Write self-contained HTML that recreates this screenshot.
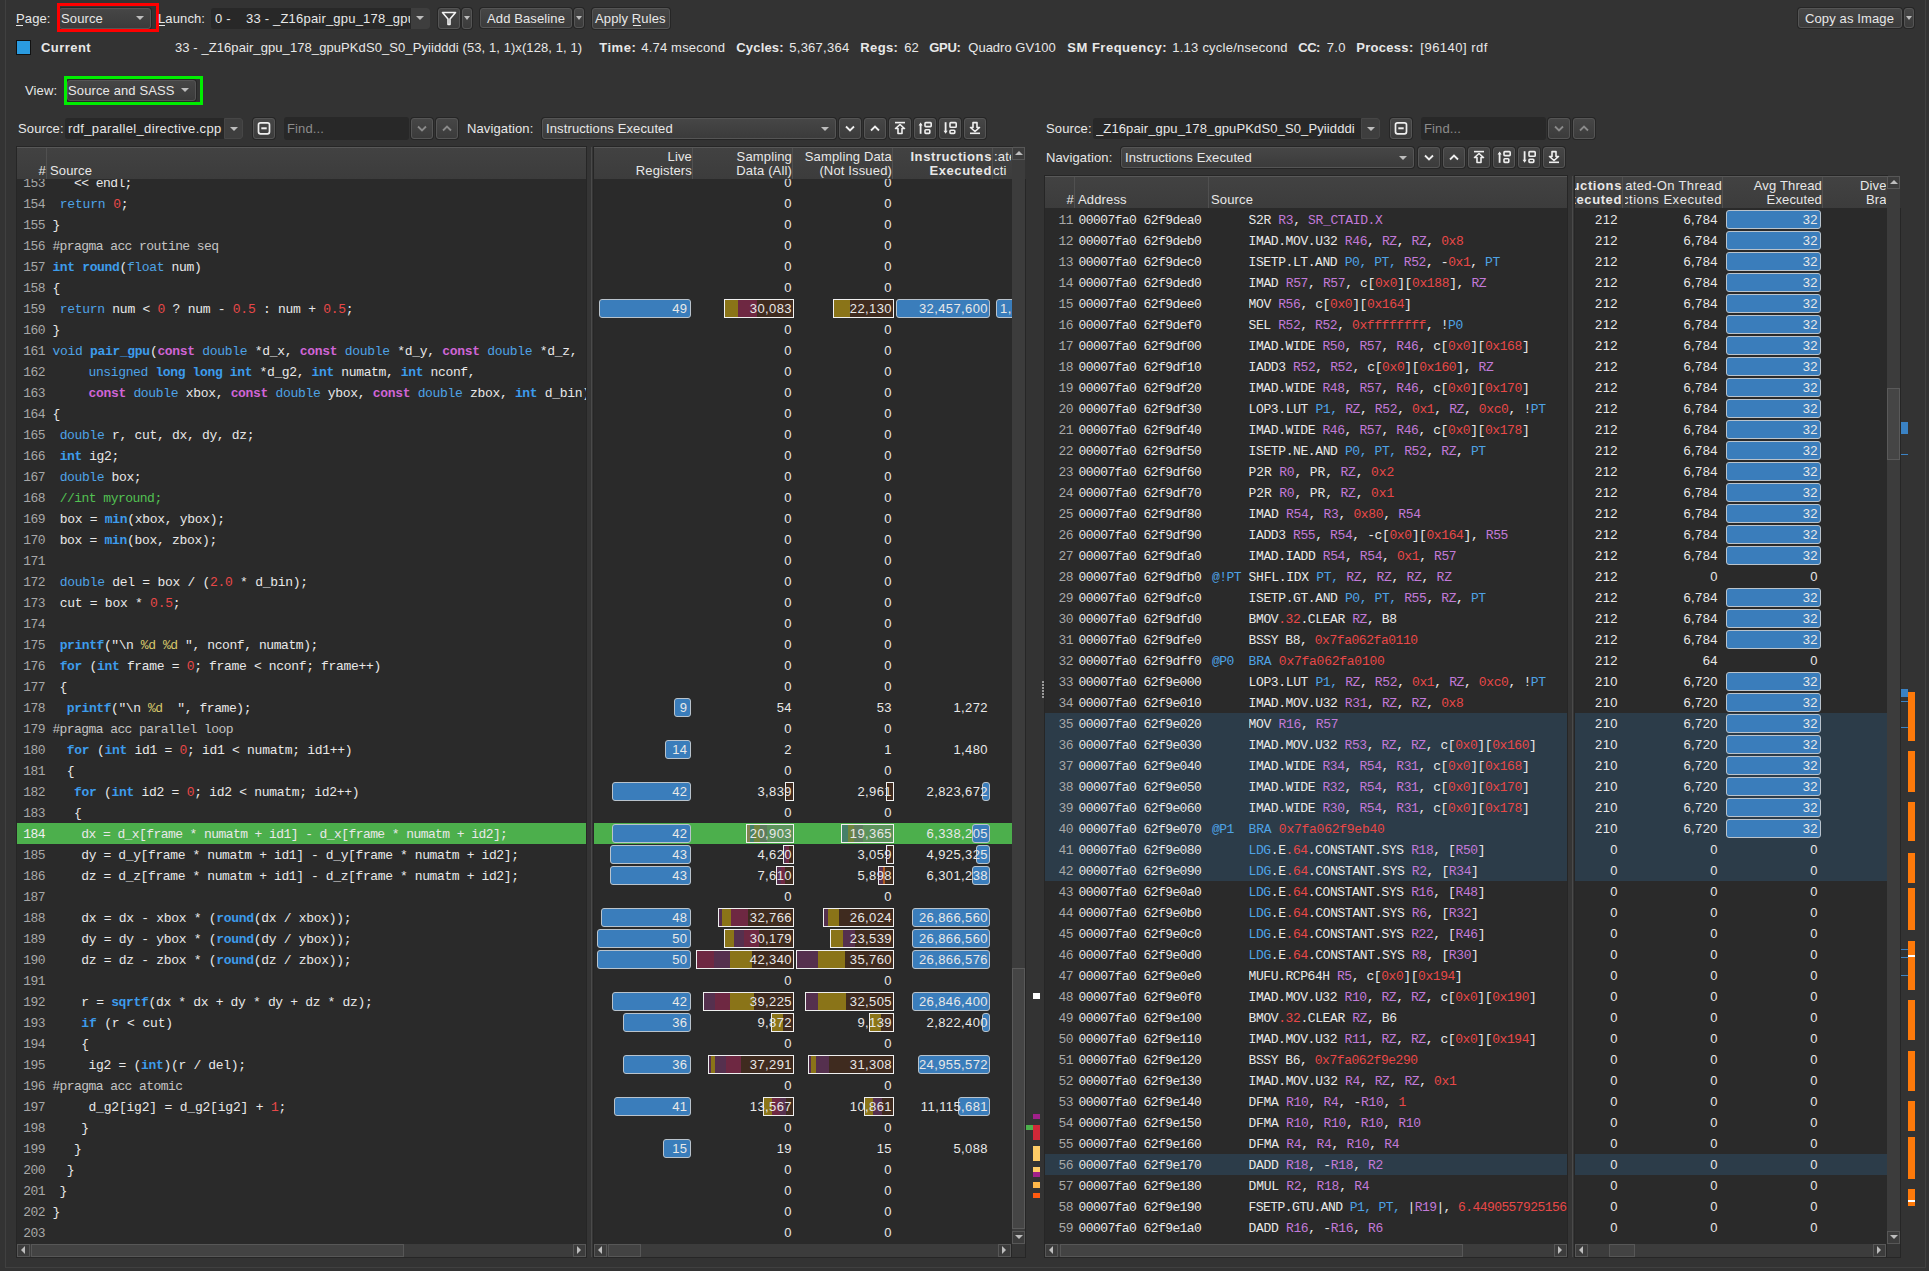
<!DOCTYPE html><html><head><meta charset="utf-8"><style>
html,body{margin:0;padding:0}
body{width:1929px;height:1271px;background:#333333;position:relative;overflow:hidden;font-family:"Liberation Sans",sans-serif;font-size:13px;color:#e8e8e8}
.a{position:absolute}
.t{white-space:pre;line-height:15px}
.m{font-family:"Liberation Mono",monospace;font-size:13px;letter-spacing:-0.58px;white-space:pre;line-height:21px}
.r{height:21px;position:absolute;left:0;right:0}
.n{position:absolute;text-align:right}
.kw{color:#4ea3e6}.kb{color:#3d9cec;font-weight:bold}.cs{color:#d065d6;font-weight:bold}.nu{color:#e84848}.cm{color:#52c152}.st{color:#d8c86a}.pp{color:#c4c4c4}
.rg{color:#c27ad8}.bl{color:#4ea3e6}
.sn{font-family:"Liberation Sans",sans-serif;font-size:13px;line-height:21px;white-space:pre;position:absolute;text-align:right;letter-spacing:0.4px}
.bar{position:absolute;box-sizing:border-box;border:1px solid #b9c3cc;border-radius:3px;background:#3a7dbb}
.sb{position:absolute;box-sizing:border-box;border:1px solid #f0f0f0;overflow:hidden;background:#3f2b1f}
</style></head><body>
<div class="a" style="left:5px;top:0px;width:1px;height:1268px;background:#404040"></div><div class="a" style="left:5px;top:1267px;width:1921px;height:1px;background:#404040"></div><div class="a" style="left:1925px;top:0px;width:1px;height:1268px;background:#404040"></div><div class="a t" style="left:16px;top:11px;letter-spacing:0.120px;">Page:</div><div class="a" style="left:16px;top:25px;width:7px;height:1px;background:#e8e8e8"></div><div class="a" style="left:59px;top:8px;width:92px;height:21px;box-sizing:border-box;border:1px solid #555;border-radius:3px;background:linear-gradient(#464646,#3b3b3b);box-shadow:0 0 0 1px #262626;"></div><div class="a t" style="left:61px;top:11px;letter-spacing:0.120px;">Source</div><div class="a" style="left:136.0px;top:16.0px;width:0;height:0;border-left:4.0px solid transparent;border-right:4.0px solid transparent;border-top:4px solid #bdbdbd;"></div><div class="a" style="left:57px;top:3px;width:102px;height:29px;box-sizing:border-box;border:3px solid #ff0000"></div><div class="a t" style="left:158px;top:11px;letter-spacing:0.120px;">Launch:</div><div class="a" style="left:159px;top:25px;width:6px;height:1px;background:#e8e8e8"></div><div class="a" style="left:211px;top:8px;width:219px;height:21px;background:#282828;border-radius:3px;"></div><div class="a" style="left:411px;top:8px;width:19px;height:21px;background:#3e3e3e;border-radius:0 3px 3px 0"></div><div class="a" style="left:416.0px;top:16.0px;width:0;height:0;border-left:4.0px solid transparent;border-right:4.0px solid transparent;border-top:4px solid #bdbdbd;"></div><div class="a t" style="left:215px;top:11px;width:195px;overflow:hidden;letter-spacing:0.2px">0 -    33 - _Z16pair_gpu_178_gpuPKdS0_S0_Pyiidddi</div><div class="a" style="left:438px;top:8px;width:22px;height:21px;box-sizing:border-box;border:1px solid #555;border-radius:3px;background:linear-gradient(#464646,#3b3b3b);box-shadow:0 0 0 1px #262626;"></div><svg class="a" style="left:438px;top:8px" width="22" height="21" viewBox="0 0 22 21"><path d="M4.5 4.5 H17.5 L12 11 V16.5 L10 16.5 V11 Z" fill="none" stroke="#f2f2f2" stroke-width="1.6" stroke-linejoin="round"/></svg><div class="a" style="left:462px;top:8px;width:10px;height:21px;box-sizing:border-box;border:1px solid #555;border-radius:3px;background:linear-gradient(#464646,#3b3b3b);box-shadow:0 0 0 1px #262626;"></div><div class="a" style="left:463.5px;top:16.0px;width:0;height:0;border-left:3.5px solid transparent;border-right:3.5px solid transparent;border-top:4px solid #bdbdbd;"></div><div class="a" style="left:480px;top:8px;width:92px;height:20px;box-sizing:border-box;border:1px solid #555;border-radius:3px;background:linear-gradient(#464646,#3b3b3b);box-shadow:0 0 0 1px #262626;"></div><div class="a t" style="left:487px;top:11px;letter-spacing:0.120px;">Add Baseline</div><div class="a" style="left:574px;top:8px;width:10px;height:20px;box-sizing:border-box;border:1px solid #555;border-radius:3px;background:linear-gradient(#464646,#3b3b3b);box-shadow:0 0 0 1px #262626;"></div><div class="a" style="left:575.5px;top:16.0px;width:0;height:0;border-left:3.5px solid transparent;border-right:3.5px solid transparent;border-top:4px solid #bdbdbd;"></div><div class="a" style="left:592px;top:8px;width:78px;height:21px;box-sizing:border-box;border:1px solid #555;border-radius:3px;background:linear-gradient(#464646,#3b3b3b);box-shadow:0 0 0 1px #262626;"></div><div class="a t" style="left:595px;top:11px;letter-spacing:0.120px;">Apply Rules</div><div class="a" style="left:633px;top:25px;width:8px;height:1px;background:#e8e8e8"></div><div class="a" style="left:1798px;top:8px;width:104px;height:20px;box-sizing:border-box;border:1px solid #555;border-radius:3px;background:linear-gradient(#464646,#3b3b3b);box-shadow:0 0 0 1px #262626;"></div><div class="a t" style="left:1805px;top:11px;letter-spacing:0.120px;">Copy as Image</div><div class="a" style="left:1904px;top:8px;width:10px;height:20px;box-sizing:border-box;border:1px solid #555;border-radius:3px;background:linear-gradient(#464646,#3b3b3b);box-shadow:0 0 0 1px #262626;"></div><div class="a" style="left:1905.5px;top:16.0px;width:0;height:0;border-left:3.5px solid transparent;border-right:3.5px solid transparent;border-top:4px solid #bdbdbd;"></div><div class="a" style="left:16px;top:40px;width:15px;height:15px;box-sizing:border-box;border:1px solid #111;background:#2a9be0"></div><div class="a t" style="left:41px;top:40px;letter-spacing:0.450px;font-weight:bold;">Current</div><div class="a t" style="left:175px;top:40px;letter-spacing:0.081px;">33 - _Z16pair_gpu_178_gpuPKdS0_S0_Pyiidddi (53, 1, 1)x(128, 1, 1)</div><div class="a t" style="left:599.3px;top:40px;letter-spacing:0.500px;font-weight:bold;">Time:</div><div class="a t" style="left:641.3px;top:40px;letter-spacing:0.182px;">4.74 msecond</div><div class="a t" style="left:736.3px;top:40px;letter-spacing:0.167px;font-weight:bold;">Cycles:</div><div class="a t" style="left:789.3px;top:40px;letter-spacing:0.250px;">5,367,364</div><div class="a t" style="left:860.3px;top:40px;letter-spacing:0.375px;font-weight:bold;">Regs:</div><div class="a t" style="left:904.3px;top:40px;letter-spacing:0.000px;">62</div><div class="a t" style="left:929.3px;top:40px;letter-spacing:-0.333px;font-weight:bold;">GPU:</div><div class="a t" style="left:968.3px;top:40px;letter-spacing:0.000px;">Quadro GV100</div><div class="a t" style="left:1067.3px;top:40px;letter-spacing:0.500px;font-weight:bold;">SM Frequency:</div><div class="a t" style="left:1172.3px;top:40px;letter-spacing:0.235px;">1.13 cycle/nsecond</div><div class="a t" style="left:1298.3px;top:40px;letter-spacing:-0.500px;font-weight:bold;">CC:</div><div class="a t" style="left:1326.8px;top:40px;letter-spacing:0.250px;">7.0</div><div class="a t" style="left:1356.3px;top:40px;letter-spacing:0.286px;font-weight:bold;">Process:</div><div class="a t" style="left:1420.3px;top:40px;letter-spacing:0.500px;">[96140] rdf</div><div class="a t" style="left:25px;top:83px;letter-spacing:0.120px;">View:</div><div class="a" style="left:67px;top:80px;width:129px;height:21px;box-sizing:border-box;border:1px solid #555;border-radius:3px;background:linear-gradient(#464646,#3b3b3b);box-shadow:0 0 0 1px #262626;"></div><div class="a t" style="left:68px;top:83px;letter-spacing:0.120px;">Source and SASS</div><div class="a" style="left:181.0px;top:88.0px;width:0;height:0;border-left:4.0px solid transparent;border-right:4.0px solid transparent;border-top:4px solid #bdbdbd;"></div><div class="a" style="left:64px;top:76px;width:139px;height:29px;box-sizing:border-box;border:3px solid #00ee00"></div><div class="a t" style="left:18px;top:121px;letter-spacing:0.120px;">Source:</div><div class="a" style="left:65px;top:118px;width:178px;height:21px;background:#282828;border-radius:3px;"></div><div class="a" style="left:224px;top:118px;width:19px;height:21px;background:#3e3e3e;border-radius:0 3px 3px 0;box-sizing:border-box;border:1px solid #464646"></div><div class="a t" style="left:68px;top:121px;width:156px;overflow:hidden;letter-spacing:0.35px">rdf_parallel_directive.cpp</div><div class="a" style="left:229.5px;top:126.5px;width:0;height:0;border-left:4.0px solid transparent;border-right:4.0px solid transparent;border-top:4px solid #bdbdbd;"></div><div class="a" style="left:253px;top:118px;width:22px;height:21px;box-sizing:border-box;border:1px solid #555;border-radius:3px;background:linear-gradient(#464646,#3b3b3b);box-shadow:0 0 0 1px #262626;"></div><svg class="a" style="left:253px;top:118px" width="22" height="21" viewBox="0 0 22 21"><rect x="5.5" y="4.8" width="11" height="11" rx="2" fill="none" stroke="#efefef" stroke-width="1.7"/><path d="M8.3 10.3 H13.7" stroke="#efefef" stroke-width="2"/></svg><div class="a" style="left:284px;top:117px;width:125px;height:23px;background:#282828;border-radius:3px;"></div><div class="a t" style="left:287px;top:121px;letter-spacing:0.120px;color:#8c8c8c;">Find...</div><div class="a" style="left:411px;top:118px;width:22px;height:21px;box-sizing:border-box;border:1px solid #555;border-radius:3px;background:linear-gradient(#464646,#3b3b3b);box-shadow:0 0 0 1px #262626;"></div><svg class="a" style="left:411px;top:118px" width="22" height="21" viewBox="0 0 22 21"><path d="M7 8.5 L11 12.5 L15 8.5" fill="none" stroke="#8a8a8a" stroke-width="1.8"/></svg><div class="a" style="left:436px;top:118px;width:22px;height:21px;box-sizing:border-box;border:1px solid #555;border-radius:3px;background:linear-gradient(#464646,#3b3b3b);box-shadow:0 0 0 1px #262626;"></div><svg class="a" style="left:436px;top:118px" width="22" height="21" viewBox="0 0 22 21"><path d="M7 12.5 L11 8.5 L15 12.5" fill="none" stroke="#8a8a8a" stroke-width="1.8"/></svg><div class="a t" style="left:467px;top:121px;letter-spacing:0.120px;">Navigation:</div><div class="a" style="left:542px;top:118px;width:294px;height:21px;box-sizing:border-box;border:1px solid #555;border-radius:3px;background:linear-gradient(#464646,#3b3b3b);box-shadow:0 0 0 1px #262626;"></div><div class="a t" style="left:546px;top:121px;letter-spacing:0.120px;">Instructions Executed</div><div class="a" style="left:821.0px;top:126.5px;width:0;height:0;border-left:4.0px solid transparent;border-right:4.0px solid transparent;border-top:4px solid #bdbdbd;"></div><div class="a" style="left:839px;top:118px;width:22px;height:21px;box-sizing:border-box;border:1px solid #555;border-radius:3px;background:linear-gradient(#464646,#3b3b3b);box-shadow:0 0 0 1px #262626;"></div><svg class="a" style="left:839px;top:118px" width="22" height="21" viewBox="0 0 22 21"><path d="M7 8.5 L11 12.5 L15 8.5" fill="none" stroke="#efefef" stroke-width="1.8"/></svg><div class="a" style="left:864px;top:118px;width:22px;height:21px;box-sizing:border-box;border:1px solid #555;border-radius:3px;background:linear-gradient(#464646,#3b3b3b);box-shadow:0 0 0 1px #262626;"></div><svg class="a" style="left:864px;top:118px" width="22" height="21" viewBox="0 0 22 21"><path d="M7 12.5 L11 8.5 L15 12.5" fill="none" stroke="#efefef" stroke-width="1.8"/></svg><div class="a" style="left:889px;top:118px;width:22px;height:21px;box-sizing:border-box;border:1px solid #555;border-radius:3px;background:linear-gradient(#464646,#3b3b3b);box-shadow:0 0 0 1px #262626;"></div><svg class="a" style="left:889px;top:118px" width="22" height="21" viewBox="0 0 22 21"><path d="M6 4.6 H16" stroke="#efefef" stroke-width="1.6"/><path d="M11 6.5 L15.5 10.5 H13 V15.5 H9 V10.5 H6.5 Z" fill="none" stroke="#efefef" stroke-width="1.6" stroke-linejoin="round"/></svg><div class="a" style="left:914px;top:118px;width:22px;height:21px;box-sizing:border-box;border:1px solid #555;border-radius:3px;background:linear-gradient(#464646,#3b3b3b);box-shadow:0 0 0 1px #262626;"></div><svg class="a" style="left:914px;top:118px" width="22" height="21" viewBox="0 0 22 21"><path d="M6.6 15.8 V6" stroke="#efefef" stroke-width="1.8"/><path d="M4.6 7.5 L6.6 4.5 L8.6 7.5 Z" fill="#efefef"/><rect x="11" y="4.6" width="6.2" height="4" rx="0.8" fill="none" stroke="#efefef" stroke-width="1.6"/><rect x="11" y="11.8" width="4.8" height="3.6" rx="0.8" fill="none" stroke="#efefef" stroke-width="1.6"/></svg><div class="a" style="left:939px;top:118px;width:22px;height:21px;box-sizing:border-box;border:1px solid #555;border-radius:3px;background:linear-gradient(#464646,#3b3b3b);box-shadow:0 0 0 1px #262626;"></div><svg class="a" style="left:939px;top:118px" width="22" height="21" viewBox="0 0 22 21"><path d="M6.6 4.2 V14" stroke="#efefef" stroke-width="1.8"/><path d="M4.6 12.8 L6.6 15.8 L8.6 12.8 Z" fill="#efefef"/><rect x="11" y="4.6" width="6.2" height="4.6" rx="0.8" fill="none" stroke="#efefef" stroke-width="1.6"/><rect x="11" y="12.2" width="4.8" height="3.2" rx="0.8" fill="none" stroke="#efefef" stroke-width="1.6"/></svg><div class="a" style="left:964px;top:118px;width:22px;height:21px;box-sizing:border-box;border:1px solid #555;border-radius:3px;background:linear-gradient(#464646,#3b3b3b);box-shadow:0 0 0 1px #262626;"></div><svg class="a" style="left:964px;top:118px" width="22" height="21" viewBox="0 0 22 21"><path d="M6 15.3 H16" stroke="#efefef" stroke-width="1.6"/><path d="M9 4.6 H13 V9.5 H15.5 L11 13.5 L6.5 9.5 H9 Z" fill="none" stroke="#efefef" stroke-width="1.6" stroke-linejoin="round"/></svg><div class="a t" style="left:1046px;top:121px;letter-spacing:0.120px;">Source:</div><div class="a" style="left:1093px;top:118px;width:287px;height:21px;background:#282828;border-radius:3px;"></div><div class="a" style="left:1361px;top:118px;width:19px;height:21px;background:#3e3e3e;border-radius:0 3px 3px 0;box-sizing:border-box;border:1px solid #464646"></div><div class="a t" style="left:1096px;top:121px;width:265px;overflow:hidden;letter-spacing:0.12px">_Z16pair_gpu_178_gpuPKdS0_S0_Pyiidddi</div><div class="a" style="left:1366.5px;top:126.5px;width:0;height:0;border-left:4.0px solid transparent;border-right:4.0px solid transparent;border-top:4px solid #bdbdbd;"></div><div class="a" style="left:1390px;top:118px;width:22px;height:21px;box-sizing:border-box;border:1px solid #555;border-radius:3px;background:linear-gradient(#464646,#3b3b3b);box-shadow:0 0 0 1px #262626;"></div><svg class="a" style="left:1390px;top:118px" width="22" height="21" viewBox="0 0 22 21"><rect x="5.5" y="4.8" width="11" height="11" rx="2" fill="none" stroke="#efefef" stroke-width="1.7"/><path d="M8.3 10.3 H13.7" stroke="#efefef" stroke-width="2"/></svg><div class="a" style="left:1421px;top:117px;width:125px;height:23px;background:#282828;border-radius:3px;"></div><div class="a t" style="left:1424px;top:121px;letter-spacing:0.120px;color:#8c8c8c;">Find...</div><div class="a" style="left:1548px;top:118px;width:22px;height:21px;box-sizing:border-box;border:1px solid #555;border-radius:3px;background:linear-gradient(#464646,#3b3b3b);box-shadow:0 0 0 1px #262626;"></div><svg class="a" style="left:1548px;top:118px" width="22" height="21" viewBox="0 0 22 21"><path d="M7 8.5 L11 12.5 L15 8.5" fill="none" stroke="#8a8a8a" stroke-width="1.8"/></svg><div class="a" style="left:1573px;top:118px;width:22px;height:21px;box-sizing:border-box;border:1px solid #555;border-radius:3px;background:linear-gradient(#464646,#3b3b3b);box-shadow:0 0 0 1px #262626;"></div><svg class="a" style="left:1573px;top:118px" width="22" height="21" viewBox="0 0 22 21"><path d="M7 12.5 L11 8.5 L15 12.5" fill="none" stroke="#8a8a8a" stroke-width="1.8"/></svg><div class="a t" style="left:1046px;top:150px;letter-spacing:0.120px;">Navigation:</div><div class="a" style="left:1121px;top:147px;width:293px;height:21px;box-sizing:border-box;border:1px solid #555;border-radius:3px;background:linear-gradient(#464646,#3b3b3b);box-shadow:0 0 0 1px #262626;"></div><div class="a t" style="left:1125px;top:150px;letter-spacing:0.120px;">Instructions Executed</div><div class="a" style="left:1399.0px;top:155.5px;width:0;height:0;border-left:4.0px solid transparent;border-right:4.0px solid transparent;border-top:4px solid #bdbdbd;"></div><div class="a" style="left:1418px;top:147px;width:22px;height:21px;box-sizing:border-box;border:1px solid #555;border-radius:3px;background:linear-gradient(#464646,#3b3b3b);box-shadow:0 0 0 1px #262626;"></div><svg class="a" style="left:1418px;top:147px" width="22" height="21" viewBox="0 0 22 21"><path d="M7 8.5 L11 12.5 L15 8.5" fill="none" stroke="#efefef" stroke-width="1.8"/></svg><div class="a" style="left:1443px;top:147px;width:22px;height:21px;box-sizing:border-box;border:1px solid #555;border-radius:3px;background:linear-gradient(#464646,#3b3b3b);box-shadow:0 0 0 1px #262626;"></div><svg class="a" style="left:1443px;top:147px" width="22" height="21" viewBox="0 0 22 21"><path d="M7 12.5 L11 8.5 L15 12.5" fill="none" stroke="#efefef" stroke-width="1.8"/></svg><div class="a" style="left:1468px;top:147px;width:22px;height:21px;box-sizing:border-box;border:1px solid #555;border-radius:3px;background:linear-gradient(#464646,#3b3b3b);box-shadow:0 0 0 1px #262626;"></div><svg class="a" style="left:1468px;top:147px" width="22" height="21" viewBox="0 0 22 21"><path d="M6 4.6 H16" stroke="#efefef" stroke-width="1.6"/><path d="M11 6.5 L15.5 10.5 H13 V15.5 H9 V10.5 H6.5 Z" fill="none" stroke="#efefef" stroke-width="1.6" stroke-linejoin="round"/></svg><div class="a" style="left:1493px;top:147px;width:22px;height:21px;box-sizing:border-box;border:1px solid #555;border-radius:3px;background:linear-gradient(#464646,#3b3b3b);box-shadow:0 0 0 1px #262626;"></div><svg class="a" style="left:1493px;top:147px" width="22" height="21" viewBox="0 0 22 21"><path d="M6.6 15.8 V6" stroke="#efefef" stroke-width="1.8"/><path d="M4.6 7.5 L6.6 4.5 L8.6 7.5 Z" fill="#efefef"/><rect x="11" y="4.6" width="6.2" height="4" rx="0.8" fill="none" stroke="#efefef" stroke-width="1.6"/><rect x="11" y="11.8" width="4.8" height="3.6" rx="0.8" fill="none" stroke="#efefef" stroke-width="1.6"/></svg><div class="a" style="left:1518px;top:147px;width:22px;height:21px;box-sizing:border-box;border:1px solid #555;border-radius:3px;background:linear-gradient(#464646,#3b3b3b);box-shadow:0 0 0 1px #262626;"></div><svg class="a" style="left:1518px;top:147px" width="22" height="21" viewBox="0 0 22 21"><path d="M6.6 4.2 V14" stroke="#efefef" stroke-width="1.8"/><path d="M4.6 12.8 L6.6 15.8 L8.6 12.8 Z" fill="#efefef"/><rect x="11" y="4.6" width="6.2" height="4.6" rx="0.8" fill="none" stroke="#efefef" stroke-width="1.6"/><rect x="11" y="12.2" width="4.8" height="3.2" rx="0.8" fill="none" stroke="#efefef" stroke-width="1.6"/></svg><div class="a" style="left:1543px;top:147px;width:22px;height:21px;box-sizing:border-box;border:1px solid #555;border-radius:3px;background:linear-gradient(#464646,#3b3b3b);box-shadow:0 0 0 1px #262626;"></div><svg class="a" style="left:1543px;top:147px" width="22" height="21" viewBox="0 0 22 21"><path d="M6 15.3 H16" stroke="#efefef" stroke-width="1.6"/><path d="M9 4.6 H13 V9.5 H15.5 L11 13.5 L6.5 9.5 H9 Z" fill="none" stroke="#efefef" stroke-width="1.6" stroke-linejoin="round"/></svg><div class="a" style="left:16px;top:146px;width:571px;height:34px;background:#262626"></div><div class="a" style="left:17px;top:147px;width:569px;height:32px;background:linear-gradient(#424242,#3c3c3c);border-top:1px solid #585858;box-sizing:border-box"></div><div class="a" style="left:46px;top:148px;width:1px;height:31px;background:#505050"></div><div class="a" style="left:16px;top:179px;width:571px;height:1079px;background:#262626"></div><div class="a" style="left:17px;top:179px;width:569px;height:1065px;background:#2a2a2a"></div><div class="a t" style="top:163px;left:-454px;width:500px;text-align:right;letter-spacing:0.15px;">#</div><div class="a t" style="top:163px;left:50px;letter-spacing:0.15px;">Source</div><div class="a" style="left:17px;top:1244px;width:569px;height:13px;background:#3c3c3c"></div><div class="a" style="left:17px;top:1244px;width:13px;height:13px;box-sizing:border-box;border:1px solid #575757;background:#3c3c3c"></div><div class="a" style="left:20.5px;top:1245.8px;width:0;height:0;border-top:4.0px solid transparent;border-bottom:4.0px solid transparent;border-right:4px solid #bdbdbd;"></div><div class="a" style="left:573px;top:1244px;width:13px;height:13px;box-sizing:border-box;border:1px solid #575757;background:#3c3c3c"></div><div class="a" style="left:576.5px;top:1245.8px;width:0;height:0;border-top:4.0px solid transparent;border-bottom:4.0px solid transparent;border-left:4px solid #bdbdbd;"></div><div class="a" style="left:31px;top:1244px;width:373px;height:13px;box-sizing:border-box;border:1px solid #575757;background:#434343"></div><div class="a" style="left:587px;top:147px;width:6px;height:1110px;background:#353535"></div><div class="a" style="left:591px;top:147px;width:1px;height:1110px;background:#4a4a4a"></div><div class="a" style="left:17px;top:179px;width:569px;height:1065px;overflow:hidden"><div class="r" style="top:-7px;"><div class="m n" style="left:0;width:28px;top:1px;color:#a8a8a8">153</div><div class="m a" style="left:35.4px;top:1px">   &lt;&lt; endl;</div></div><div class="r" style="top:14px;"><div class="m n" style="left:0;width:28px;top:1px;color:#a8a8a8">154</div><div class="m a" style="left:35.4px;top:1px"> <span style="letter-spacing:-0.155px"><span class="kw">return</span> <span class="nu">0</span>;</span></div></div><div class="r" style="top:35px;"><div class="m n" style="left:0;width:28px;top:1px;color:#a8a8a8">155</div><div class="m a" style="left:35.4px;top:1px">}</div></div><div class="r" style="top:56px;"><div class="m n" style="left:0;width:28px;top:1px;color:#a8a8a8">156</div><div class="m a" style="left:35.4px;top:1px"><span class="pp">#pragma acc routine seq</span></div></div><div class="r" style="top:77px;"><div class="m n" style="left:0;width:28px;top:1px;color:#a8a8a8">157</div><div class="m a" style="left:35.4px;top:1px"><span style="letter-spacing:-0.354px"><span class="kb">int</span> <span class="kb">round</span>(<span class="kw">float</span> num)</span></div></div><div class="r" style="top:98px;"><div class="m n" style="left:0;width:28px;top:1px;color:#a8a8a8">158</div><div class="m a" style="left:35.4px;top:1px">{</div></div><div class="r" style="top:119px;"><div class="m n" style="left:0;width:28px;top:1px;color:#a8a8a8">159</div><div class="m a" style="left:35.4px;top:1px"> <span style="letter-spacing:-0.272px"><span class="kw">return</span> num &lt; <span class="nu">0</span> ? num - <span class="nu">0.5</span> : num + <span class="nu">0.5</span>;</span></div></div><div class="r" style="top:140px;"><div class="m n" style="left:0;width:28px;top:1px;color:#a8a8a8">160</div><div class="m a" style="left:35.4px;top:1px">}</div></div><div class="r" style="top:161px;"><div class="m n" style="left:0;width:28px;top:1px;color:#a8a8a8">161</div><div class="m a" style="left:35.4px;top:1px"><span style="letter-spacing:-0.305px"><span class="kw">void</span> <span class="kb">pair_gpu</span>(<span class="cs">const</span> <span class="kw">double</span> *d_x, <span class="cs">const</span> <span class="kw">double</span> *d_y, <span class="cs">const</span> <span class="kw">double</span> *d_z,</span></div></div><div class="r" style="top:182px;"><div class="m n" style="left:0;width:28px;top:1px;color:#a8a8a8">162</div><div class="m a" style="left:35.4px;top:1px">     <span style="letter-spacing:-0.367px"><span class="kw">unsigned</span> <span class="kb">long</span> <span class="kb">long</span> <span class="kb">int</span> *d_g2, <span class="kb">int</span> numatm, <span class="kb">int</span> nconf,</span></div></div><div class="r" style="top:203px;"><div class="m n" style="left:0;width:28px;top:1px;color:#a8a8a8">163</div><div class="m a" style="left:35.4px;top:1px">     <span style="letter-spacing:-0.323px"><span class="cs">const</span> <span class="kw">double</span> xbox, <span class="cs">const</span> <span class="kw">double</span> ybox, <span class="cs">const</span> <span class="kw">double</span> zbox, <span class="kb">int</span> d_bin)</span></div></div><div class="r" style="top:224px;"><div class="m n" style="left:0;width:28px;top:1px;color:#a8a8a8">164</div><div class="m a" style="left:35.4px;top:1px">{</div></div><div class="r" style="top:245px;"><div class="m n" style="left:0;width:28px;top:1px;color:#a8a8a8">165</div><div class="m a" style="left:35.4px;top:1px"> <span style="letter-spacing:-0.314px"><span class="kw">double</span> r, cut, dx, dy, dz;</span></div></div><div class="r" style="top:266px;"><div class="m n" style="left:0;width:28px;top:1px;color:#a8a8a8">166</div><div class="m a" style="left:35.4px;top:1px"> <span style="letter-spacing:-0.406px"><span class="kb">int</span> ig2;</span></div></div><div class="r" style="top:287px;"><div class="m n" style="left:0;width:28px;top:1px;color:#a8a8a8">167</div><div class="m a" style="left:35.4px;top:1px"> <span style="letter-spacing:-0.384px"><span class="kw">double</span> box;</span></div></div><div class="r" style="top:308px;"><div class="m n" style="left:0;width:28px;top:1px;color:#a8a8a8">168</div><div class="m a" style="left:35.4px;top:1px"> <span style="letter-spacing:-0.511px"><span class="cm">//int myround;</span></span></div></div><div class="r" style="top:329px;"><div class="m n" style="left:0;width:28px;top:1px;color:#a8a8a8">169</div><div class="m a" style="left:35.4px;top:1px"> <span style="letter-spacing:-0.297px">box = <span class="kb">min</span>(xbox, ybox);</span></div></div><div class="r" style="top:350px;"><div class="m n" style="left:0;width:28px;top:1px;color:#a8a8a8">170</div><div class="m a" style="left:35.4px;top:1px"> <span style="letter-spacing:-0.312px">box = <span class="kb">min</span>(box, zbox);</span></div></div><div class="r" style="top:371px;"><div class="m n" style="left:0;width:28px;top:1px;color:#a8a8a8">171</div><div class="m a" style="left:35.4px;top:1px"></div></div><div class="r" style="top:392px;"><div class="m n" style="left:0;width:28px;top:1px;color:#a8a8a8">172</div><div class="m a" style="left:35.4px;top:1px"> <span style="letter-spacing:-0.283px"><span class="kw">double</span> del = box / (<span class="nu">2.0</span> * d_bin);</span></div></div><div class="r" style="top:413px;"><div class="m n" style="left:0;width:28px;top:1px;color:#a8a8a8">173</div><div class="m a" style="left:35.4px;top:1px"> <span style="letter-spacing:-0.263px">cut = box * <span class="nu">0.5</span>;</span></div></div><div class="r" style="top:434px;"><div class="m n" style="left:0;width:28px;top:1px;color:#a8a8a8">174</div><div class="m a" style="left:35.4px;top:1px"></div></div><div class="r" style="top:455px;"><div class="m n" style="left:0;width:28px;top:1px;color:#a8a8a8">175</div><div class="m a" style="left:35.4px;top:1px"> <span style="letter-spacing:-0.422px"><span class="kb">printf</span>(&quot;\n <span class="st">%d</span> <span class="st">%d</span> &quot;, nconf, numatm);</span></div></div><div class="r" style="top:476px;"><div class="m n" style="left:0;width:28px;top:1px;color:#a8a8a8">176</div><div class="m a" style="left:35.4px;top:1px"> <span style="letter-spacing:-0.332px"><span class="kb">for</span> (<span class="kb">int</span> frame = <span class="nu">0</span>; frame &lt; nconf; frame++)</span></div></div><div class="r" style="top:497px;"><div class="m n" style="left:0;width:28px;top:1px;color:#a8a8a8">177</div><div class="m a" style="left:35.4px;top:1px"> {</div></div><div class="r" style="top:518px;"><div class="m n" style="left:0;width:28px;top:1px;color:#a8a8a8">178</div><div class="m a" style="left:35.4px;top:1px">  <span style="letter-spacing:-0.436px"><span class="kb">printf</span>(&quot;\n <span class="st">%d</span>  &quot;, frame);</span></div></div><div class="r" style="top:539px;"><div class="m n" style="left:0;width:28px;top:1px;color:#a8a8a8">179</div><div class="m a" style="left:35.4px;top:1px"><span class="pp">#pragma acc parallel loop</span></div></div><div class="r" style="top:560px;"><div class="m n" style="left:0;width:28px;top:1px;color:#a8a8a8">180</div><div class="m a" style="left:35.4px;top:1px">  <span style="letter-spacing:-0.291px"><span class="kb">for</span> (<span class="kb">int</span> id1 = <span class="nu">0</span>; id1 &lt; numatm; id1++)</span></div></div><div class="r" style="top:581px;"><div class="m n" style="left:0;width:28px;top:1px;color:#a8a8a8">181</div><div class="m a" style="left:35.4px;top:1px">  {</div></div><div class="r" style="top:602px;"><div class="m n" style="left:0;width:28px;top:1px;color:#a8a8a8">182</div><div class="m a" style="left:35.4px;top:1px">   <span style="letter-spacing:-0.299px"><span class="kb">for</span> (<span class="kb">int</span> id2 = <span class="nu">0</span>; id2 &lt; numatm; id2++)</span></div></div><div class="r" style="top:623px;"><div class="m n" style="left:0;width:28px;top:1px;color:#a8a8a8">183</div><div class="m a" style="left:35.4px;top:1px">   {</div></div><div class="r" style="top:644px;background:#4caf4c;"><div class="m n" style="left:0;width:28px;top:1px;color:#f0f0f0">184</div><div class="m a" style="left:35.4px;top:1px">    dx = d_x[frame * numatm + id1] - d_x[frame * numatm + id2];</div></div><div class="r" style="top:665px;"><div class="m n" style="left:0;width:28px;top:1px;color:#a8a8a8">185</div><div class="m a" style="left:35.4px;top:1px">    <span style="letter-spacing:-0.390px">dy = d_y[frame * numatm + id1] - d_y[frame * numatm + id2];</span></div></div><div class="r" style="top:686px;"><div class="m n" style="left:0;width:28px;top:1px;color:#a8a8a8">186</div><div class="m a" style="left:35.4px;top:1px">    <span style="letter-spacing:-0.390px">dz = d_z[frame * numatm + id1] - d_z[frame * numatm + id2];</span></div></div><div class="r" style="top:707px;"><div class="m n" style="left:0;width:28px;top:1px;color:#a8a8a8">187</div><div class="m a" style="left:35.4px;top:1px"></div></div><div class="r" style="top:728px;"><div class="m n" style="left:0;width:28px;top:1px;color:#a8a8a8">188</div><div class="m a" style="left:35.4px;top:1px">    <span style="letter-spacing:-0.300px">dx = dx - xbox * (<span class="kb">round</span>(dx / xbox));</span></div></div><div class="r" style="top:749px;"><div class="m n" style="left:0;width:28px;top:1px;color:#a8a8a8">189</div><div class="m a" style="left:35.4px;top:1px">    <span style="letter-spacing:-0.300px">dy = dy - ybox * (<span class="kb">round</span>(dy / ybox));</span></div></div><div class="r" style="top:770px;"><div class="m n" style="left:0;width:28px;top:1px;color:#a8a8a8">190</div><div class="m a" style="left:35.4px;top:1px">    <span style="letter-spacing:-0.300px">dz = dz - zbox * (<span class="kb">round</span>(dz / zbox));</span></div></div><div class="r" style="top:791px;"><div class="m n" style="left:0;width:28px;top:1px;color:#a8a8a8">191</div><div class="m a" style="left:35.4px;top:1px"></div></div><div class="r" style="top:812px;"><div class="m n" style="left:0;width:28px;top:1px;color:#a8a8a8">192</div><div class="m a" style="left:35.4px;top:1px">    <span style="letter-spacing:-0.337px">r = <span class="kb">sqrtf</span>(dx * dx + dy * dy + dz * dz);</span></div></div><div class="r" style="top:833px;"><div class="m n" style="left:0;width:28px;top:1px;color:#a8a8a8">193</div><div class="m a" style="left:35.4px;top:1px">    <span style="letter-spacing:-0.164px"><span class="kb">if</span> (r &lt; cut)</span></div></div><div class="r" style="top:854px;"><div class="m n" style="left:0;width:28px;top:1px;color:#a8a8a8">194</div><div class="m a" style="left:35.4px;top:1px">    {</div></div><div class="r" style="top:875px;"><div class="m n" style="left:0;width:28px;top:1px;color:#a8a8a8">195</div><div class="m a" style="left:35.4px;top:1px">     <span style="letter-spacing:-0.311px">ig2 = (<span class="kb">int</span>)(r / del);</span></div></div><div class="r" style="top:896px;"><div class="m n" style="left:0;width:28px;top:1px;color:#a8a8a8">196</div><div class="m a" style="left:35.4px;top:1px"><span class="pp">#pragma acc atomic</span></div></div><div class="r" style="top:917px;"><div class="m n" style="left:0;width:28px;top:1px;color:#a8a8a8">197</div><div class="m a" style="left:35.4px;top:1px">     <span style="letter-spacing:-0.201px">d_g2[ig2] = d_g2[ig2] + <span class="nu">1</span>;</span></div></div><div class="r" style="top:938px;"><div class="m n" style="left:0;width:28px;top:1px;color:#a8a8a8">198</div><div class="m a" style="left:35.4px;top:1px">    }</div></div><div class="r" style="top:959px;"><div class="m n" style="left:0;width:28px;top:1px;color:#a8a8a8">199</div><div class="m a" style="left:35.4px;top:1px">   }</div></div><div class="r" style="top:980px;"><div class="m n" style="left:0;width:28px;top:1px;color:#a8a8a8">200</div><div class="m a" style="left:35.4px;top:1px">  }</div></div><div class="r" style="top:1001px;"><div class="m n" style="left:0;width:28px;top:1px;color:#a8a8a8">201</div><div class="m a" style="left:35.4px;top:1px"> }</div></div><div class="r" style="top:1022px;"><div class="m n" style="left:0;width:28px;top:1px;color:#a8a8a8">202</div><div class="m a" style="left:35.4px;top:1px">}</div></div><div class="r" style="top:1043px;"><div class="m n" style="left:0;width:28px;top:1px;color:#a8a8a8">203</div><div class="m a" style="left:35.4px;top:1px"></div></div></div><div class="a" style="left:593px;top:146px;width:420px;height:34px;background:#262626"></div><div class="a" style="left:594px;top:147px;width:418px;height:32px;background:linear-gradient(#424242,#3c3c3c);border-top:1px solid #585858;box-sizing:border-box"></div><div class="a" style="left:692px;top:148px;width:1px;height:31px;background:#505050"></div><div class="a" style="left:792px;top:148px;width:1px;height:31px;background:#505050"></div><div class="a" style="left:892px;top:148px;width:1px;height:31px;background:#505050"></div><div class="a" style="left:992px;top:148px;width:1px;height:31px;background:#505050"></div><div class="a" style="left:593px;top:179px;width:433px;height:1079px;background:#262626"></div><div class="a" style="left:594px;top:179px;width:418px;height:1065px;background:#2a2a2a"></div><div class="a t" style="top:149px;left:192px;width:500px;text-align:right;letter-spacing:0.15px;">Live</div><div class="a t" style="top:163px;left:192px;width:500px;text-align:right;letter-spacing:0.15px;">Registers</div><div class="a t" style="top:149px;left:292px;width:500px;text-align:right;letter-spacing:0.15px;">Sampling</div><div class="a t" style="top:163px;left:292px;width:500px;text-align:right;letter-spacing:0.15px;">Data (All)</div><div class="a t" style="top:149px;left:392px;width:500px;text-align:right;letter-spacing:0.15px;">Sampling Data</div><div class="a t" style="top:163px;left:392px;width:500px;text-align:right;letter-spacing:0.15px;">(Not Issued)</div><div class="a t" style="top:149px;left:492px;width:500px;text-align:right;letter-spacing:0.6px;font-weight:bold;">Instructions</div><div class="a t" style="top:163px;left:492px;width:500px;text-align:right;letter-spacing:0.6px;font-weight:bold;">Executed</div><div class="a" style="left:993px;top:147px;width:18px;height:32px;overflow:hidden"><div class="a t" style="top:2px;left:1px;letter-spacing:0.15px;">:ated</div><div class="a t" style="top:16px;left:0px;letter-spacing:0.15px;">cti</div></div><div class="a" style="left:1012px;top:147px;width:13px;height:1097px;background:#3c3c3c"></div><div class="a" style="left:1012px;top:147px;width:13px;height:13px;box-sizing:border-box;border:1px solid #575757;background:#3c3c3c"></div><div class="a" style="left:1014.5px;top:151.0px;width:0;height:0;border-left:4.0px solid transparent;border-right:4.0px solid transparent;border-bottom:4px solid #bdbdbd;"></div><div class="a" style="left:1012px;top:1231px;width:13px;height:13px;box-sizing:border-box;border:1px solid #575757;background:#3c3c3c"></div><div class="a" style="left:1014.5px;top:1234.5px;width:0;height:0;border-left:4.0px solid transparent;border-right:4.0px solid transparent;border-top:4px solid #bdbdbd;"></div><div class="a" style="left:1012px;top:968px;width:13px;height:261px;box-sizing:border-box;border:1px solid #5a5a5a;background:#454545"></div><div class="a" style="left:594px;top:1244px;width:417px;height:13px;background:#3c3c3c"></div><div class="a" style="left:594px;top:1244px;width:13px;height:13px;box-sizing:border-box;border:1px solid #575757;background:#3c3c3c"></div><div class="a" style="left:597.5px;top:1245.8px;width:0;height:0;border-top:4.0px solid transparent;border-bottom:4.0px solid transparent;border-right:4px solid #bdbdbd;"></div><div class="a" style="left:998px;top:1244px;width:13px;height:13px;box-sizing:border-box;border:1px solid #575757;background:#3c3c3c"></div><div class="a" style="left:1001.5px;top:1245.8px;width:0;height:0;border-top:4.0px solid transparent;border-bottom:4.0px solid transparent;border-left:4px solid #bdbdbd;"></div><div class="a" style="left:608px;top:1244px;width:33px;height:13px;box-sizing:border-box;border:1px solid #575757;background:#434343"></div><div class="a" style="left:1012px;top:1244px;width:13px;height:13px;background:#353535"></div><div class="a" style="left:594px;top:179px;width:418px;height:1065px;overflow:hidden"><div class="r" style="top:-7px;"><div class="sn" style="left:0;width:198px;top:0">0</div><div class="sn" style="left:0;width:298px;top:0">0</div></div><div class="r" style="top:14px;"><div class="sn" style="left:0;width:198px;top:0">0</div><div class="sn" style="left:0;width:298px;top:0">0</div></div><div class="r" style="top:35px;"><div class="sn" style="left:0;width:198px;top:0">0</div><div class="sn" style="left:0;width:298px;top:0">0</div></div><div class="r" style="top:56px;"><div class="sn" style="left:0;width:198px;top:0">0</div><div class="sn" style="left:0;width:298px;top:0">0</div></div><div class="r" style="top:77px;"><div class="sn" style="left:0;width:198px;top:0">0</div><div class="sn" style="left:0;width:298px;top:0">0</div></div><div class="r" style="top:98px;"><div class="sn" style="left:0;width:198px;top:0">0</div><div class="sn" style="left:0;width:298px;top:0">0</div></div><div class="r" style="top:119px;"><div class="bar" style="left:4.5px;top:1px;width:92px;height:19px"></div><div class="sn" style="left:0;width:93.5px;top:0">49</div><div class="sb" style="left:130.20000000000005px;top:1px;width:70px;height:19px;"><div style="float:left;width:13px;height:100%;background:#8a7418;"></div><div style="float:left;width:19px;height:100%;background:#6e2842;"></div></div><div class="sb" style="left:239px;top:1px;width:61px;height:19px;"><div style="float:left;width:16px;height:100%;background:#8a7418;"></div></div><div class="bar" style="left:302.4px;top:1px;width:94px;height:19px"></div><div class="sn" style="left:0;width:198px;top:0">30,083</div><div class="sn" style="left:0;width:298px;top:0">22,130</div><div class="sn" style="left:0;width:394px;top:0">32,457,600</div><div class="bar" style="left:402px;top:1px;width:30px;height:19px"></div><div class="sn" style="left:406px;top:0;text-align:left">1,</div></div><div class="r" style="top:140px;"><div class="sn" style="left:0;width:198px;top:0">0</div><div class="sn" style="left:0;width:298px;top:0">0</div></div><div class="r" style="top:161px;"><div class="sn" style="left:0;width:198px;top:0">0</div><div class="sn" style="left:0;width:298px;top:0">0</div></div><div class="r" style="top:182px;"><div class="sn" style="left:0;width:198px;top:0">0</div><div class="sn" style="left:0;width:298px;top:0">0</div></div><div class="r" style="top:203px;"><div class="sn" style="left:0;width:198px;top:0">0</div><div class="sn" style="left:0;width:298px;top:0">0</div></div><div class="r" style="top:224px;"><div class="sn" style="left:0;width:198px;top:0">0</div><div class="sn" style="left:0;width:298px;top:0">0</div></div><div class="r" style="top:245px;"><div class="sn" style="left:0;width:198px;top:0">0</div><div class="sn" style="left:0;width:298px;top:0">0</div></div><div class="r" style="top:266px;"><div class="sn" style="left:0;width:198px;top:0">0</div><div class="sn" style="left:0;width:298px;top:0">0</div></div><div class="r" style="top:287px;"><div class="sn" style="left:0;width:198px;top:0">0</div><div class="sn" style="left:0;width:298px;top:0">0</div></div><div class="r" style="top:308px;"><div class="sn" style="left:0;width:198px;top:0">0</div><div class="sn" style="left:0;width:298px;top:0">0</div></div><div class="r" style="top:329px;"><div class="sn" style="left:0;width:198px;top:0">0</div><div class="sn" style="left:0;width:298px;top:0">0</div></div><div class="r" style="top:350px;"><div class="sn" style="left:0;width:198px;top:0">0</div><div class="sn" style="left:0;width:298px;top:0">0</div></div><div class="r" style="top:371px;"><div class="sn" style="left:0;width:198px;top:0">0</div><div class="sn" style="left:0;width:298px;top:0">0</div></div><div class="r" style="top:392px;"><div class="sn" style="left:0;width:198px;top:0">0</div><div class="sn" style="left:0;width:298px;top:0">0</div></div><div class="r" style="top:413px;"><div class="sn" style="left:0;width:198px;top:0">0</div><div class="sn" style="left:0;width:298px;top:0">0</div></div><div class="r" style="top:434px;"><div class="sn" style="left:0;width:198px;top:0">0</div><div class="sn" style="left:0;width:298px;top:0">0</div></div><div class="r" style="top:455px;"><div class="sn" style="left:0;width:198px;top:0">0</div><div class="sn" style="left:0;width:298px;top:0">0</div></div><div class="r" style="top:476px;"><div class="sn" style="left:0;width:198px;top:0">0</div><div class="sn" style="left:0;width:298px;top:0">0</div></div><div class="r" style="top:497px;"><div class="sn" style="left:0;width:198px;top:0">0</div><div class="sn" style="left:0;width:298px;top:0">0</div></div><div class="r" style="top:518px;"><div class="bar" style="left:79.5px;top:1px;width:17px;height:19px"></div><div class="sn" style="left:0;width:93.5px;top:0">9</div><div class="sn" style="left:0;width:198px;top:0">54</div><div class="sn" style="left:0;width:298px;top:0">53</div><div class="sn" style="left:0;width:394px;top:0">1,272</div></div><div class="r" style="top:539px;"><div class="sn" style="left:0;width:198px;top:0">0</div><div class="sn" style="left:0;width:298px;top:0">0</div></div><div class="r" style="top:560px;"><div class="bar" style="left:70.5px;top:1px;width:26px;height:19px"></div><div class="sn" style="left:0;width:93.5px;top:0">14</div><div class="sn" style="left:0;width:198px;top:0">2</div><div class="sn" style="left:0;width:298px;top:0">1</div><div class="sn" style="left:0;width:394px;top:0">1,480</div></div><div class="r" style="top:581px;"><div class="sn" style="left:0;width:198px;top:0">0</div><div class="sn" style="left:0;width:298px;top:0">0</div></div><div class="r" style="top:602px;"><div class="bar" style="left:17.5px;top:1px;width:79px;height:19px"></div><div class="sn" style="left:0;width:93.5px;top:0">42</div><div class="sb" style="left:191.20000000000005px;top:1px;width:9px;height:19px;"></div><div class="sb" style="left:292px;top:1px;width:8px;height:19px;"></div><div class="bar" style="left:388.4px;top:1px;width:8px;height:19px"></div><div class="sn" style="left:0;width:198px;top:0">3,839</div><div class="sn" style="left:0;width:298px;top:0">2,961</div><div class="sn" style="left:0;width:394px;top:0">2,823,672</div></div><div class="r" style="top:623px;"><div class="sn" style="left:0;width:198px;top:0">0</div><div class="sn" style="left:0;width:298px;top:0">0</div></div><div class="r" style="top:644px;background:#4caf4c;"><div class="bar" style="left:17.5px;top:1px;width:79px;height:19px"></div><div class="sn" style="left:0;width:93.5px;top:0">42</div><div class="sb" style="left:152.20000000000005px;top:1px;width:48px;height:19px;background:rgba(110,110,110,0.45);"><div style="float:left;width:3px;height:100%;background:#b07040;opacity:0.45;"></div><div style="float:left;width:4px;height:100%;background:#2a6a7a;opacity:0.45;"></div><div style="float:left;width:6px;height:100%;background:#8a7418;opacity:0.45;"></div><div style="float:left;width:7px;height:100%;background:#606060;opacity:0.45;"></div></div><div class="sb" style="left:247px;top:1px;width:53px;height:19px;background:rgba(110,110,110,0.45);"><div style="float:left;width:6px;height:100%;background:#2a6a7a;opacity:0.45;"></div><div style="float:left;width:6px;height:100%;background:#8a7418;opacity:0.45;"></div><div style="float:left;width:9px;height:100%;background:#606060;opacity:0.45;"></div></div><div class="bar" style="left:378.4px;top:1px;width:18px;height:19px"></div><div class="sn" style="left:0;width:198px;top:0">20,903</div><div class="sn" style="left:0;width:298px;top:0">19,365</div><div class="sn" style="left:0;width:394px;top:0">6,338,205</div></div><div class="r" style="top:665px;"><div class="bar" style="left:15.5px;top:1px;width:81px;height:19px"></div><div class="sn" style="left:0;width:93.5px;top:0">43</div><div class="sb" style="left:189.20000000000005px;top:1px;width:11px;height:19px;"><div style="float:left;width:2px;height:100%;background:#55304e;"></div><div style="float:left;width:3px;height:100%;background:#6e2842;"></div></div><div class="sb" style="left:292px;top:1px;width:8px;height:19px;"><div style="float:left;width:1px;height:100%;background:#55304e;"></div></div><div class="bar" style="left:382.4px;top:1px;width:14px;height:19px"></div><div class="sn" style="left:0;width:198px;top:0">4,620</div><div class="sn" style="left:0;width:298px;top:0">3,059</div><div class="sn" style="left:0;width:394px;top:0">4,925,325</div></div><div class="r" style="top:686px;"><div class="bar" style="left:15.5px;top:1px;width:81px;height:19px"></div><div class="sn" style="left:0;width:93.5px;top:0">43</div><div class="sb" style="left:182.20000000000005px;top:1px;width:18px;height:19px;"><div style="float:left;width:4px;height:100%;background:#55304e;"></div><div style="float:left;width:4px;height:100%;background:#6e2842;"></div></div><div class="sb" style="left:284px;top:1px;width:16px;height:19px;"><div style="float:left;width:4px;height:100%;background:#55304e;"></div><div style="float:left;width:2px;height:100%;background:#b05a20;"></div></div><div class="bar" style="left:378.4px;top:1px;width:18px;height:19px"></div><div class="sn" style="left:0;width:198px;top:0">7,610</div><div class="sn" style="left:0;width:298px;top:0">5,898</div><div class="sn" style="left:0;width:394px;top:0">6,301,238</div></div><div class="r" style="top:707px;"><div class="sn" style="left:0;width:198px;top:0">0</div><div class="sn" style="left:0;width:298px;top:0">0</div></div><div class="r" style="top:728px;"><div class="bar" style="left:6.5px;top:1px;width:90px;height:19px"></div><div class="sn" style="left:0;width:93.5px;top:0">48</div><div class="sb" style="left:124.20000000000005px;top:1px;width:76px;height:19px;"><div style="float:left;width:3px;height:100%;background:#55304e;"></div><div style="float:left;width:9px;height:100%;background:#8a7418;"></div><div style="float:left;width:17px;height:100%;background:#6e2842;"></div></div><div class="sb" style="left:229px;top:1px;width:71px;height:19px;"><div style="float:left;width:4px;height:100%;background:#55304e;"></div><div style="float:left;width:11px;height:100%;background:#8a7418;"></div></div><div class="bar" style="left:318.4px;top:1px;width:78px;height:19px"></div><div class="sn" style="left:0;width:198px;top:0">32,766</div><div class="sn" style="left:0;width:298px;top:0">26,024</div><div class="sn" style="left:0;width:394px;top:0">26,866,560</div></div><div class="r" style="top:749px;"><div class="bar" style="left:2.5px;top:1px;width:94px;height:19px"></div><div class="sn" style="left:0;width:93.5px;top:0">50</div><div class="sb" style="left:130.20000000000005px;top:1px;width:70px;height:19px;"><div style="float:left;width:9px;height:100%;background:#8a7418;"></div><div style="float:left;width:10px;height:100%;background:#55304e;"></div><div style="float:left;width:15px;height:100%;background:#6e2842;"></div></div><div class="sb" style="left:236px;top:1px;width:64px;height:19px;"><div style="float:left;width:12px;height:100%;background:#8a7418;"></div><div style="float:left;width:12px;height:100%;background:#55304e;"></div></div><div class="bar" style="left:318.4px;top:1px;width:78px;height:19px"></div><div class="sn" style="left:0;width:198px;top:0">30,179</div><div class="sn" style="left:0;width:298px;top:0">23,539</div><div class="sn" style="left:0;width:394px;top:0">26,866,560</div></div><div class="r" style="top:770px;"><div class="bar" style="left:2.5px;top:1px;width:94px;height:19px"></div><div class="sn" style="left:0;width:93.5px;top:0">50</div><div class="sb" style="left:102.20000000000005px;top:1px;width:98px;height:19px;"><div style="float:left;width:17px;height:100%;background:#6e2842;"></div><div style="float:left;width:16px;height:100%;background:#55304e;"></div><div style="float:left;width:22px;height:100%;background:#8a7418;"></div></div><div class="sb" style="left:202px;top:1px;width:98px;height:19px;"><div style="float:left;width:21px;height:100%;background:#55304e;"></div><div style="float:left;width:27px;height:100%;background:#8a7418;"></div></div><div class="bar" style="left:318.4px;top:1px;width:78px;height:19px"></div><div class="sn" style="left:0;width:198px;top:0">42,340</div><div class="sn" style="left:0;width:298px;top:0">35,760</div><div class="sn" style="left:0;width:394px;top:0">26,866,576</div></div><div class="r" style="top:791px;"><div class="sn" style="left:0;width:198px;top:0">0</div><div class="sn" style="left:0;width:298px;top:0">0</div></div><div class="r" style="top:812px;"><div class="bar" style="left:17.5px;top:1px;width:79px;height:19px"></div><div class="sn" style="left:0;width:93.5px;top:0">42</div><div class="sb" style="left:109.20000000000005px;top:1px;width:91px;height:19px;"><div style="float:left;width:11px;height:100%;background:#55304e;"></div><div style="float:left;width:15px;height:100%;background:#6e2842;"></div><div style="float:left;width:24px;height:100%;background:#8a7418;"></div></div><div class="sb" style="left:211px;top:1px;width:89px;height:19px;"><div style="float:left;width:12px;height:100%;background:#55304e;"></div><div style="float:left;width:28px;height:100%;background:#8a7418;"></div></div><div class="bar" style="left:318.4px;top:1px;width:78px;height:19px"></div><div class="sn" style="left:0;width:198px;top:0">39,225</div><div class="sn" style="left:0;width:298px;top:0">32,505</div><div class="sn" style="left:0;width:394px;top:0">26,846,400</div></div><div class="r" style="top:833px;"><div class="bar" style="left:28.5px;top:1px;width:68px;height:19px"></div><div class="sn" style="left:0;width:93.5px;top:0">36</div><div class="sb" style="left:177.20000000000005px;top:1px;width:23px;height:19px;"><div style="float:left;width:11px;height:100%;background:#8a7418;"></div></div><div class="sb" style="left:275px;top:1px;width:25px;height:19px;"><div style="float:left;width:11px;height:100%;background:#8a7418;"></div></div><div class="bar" style="left:388.4px;top:1px;width:8px;height:19px"></div><div class="sn" style="left:0;width:198px;top:0">9,872</div><div class="sn" style="left:0;width:298px;top:0">9,139</div><div class="sn" style="left:0;width:394px;top:0">2,822,400</div></div><div class="r" style="top:854px;"><div class="sn" style="left:0;width:198px;top:0">0</div><div class="sn" style="left:0;width:298px;top:0">0</div></div><div class="r" style="top:875px;"><div class="bar" style="left:28.5px;top:1px;width:68px;height:19px"></div><div class="sn" style="left:0;width:93.5px;top:0">36</div><div class="sb" style="left:114.20000000000005px;top:1px;width:86px;height:19px;"><div style="float:left;width:2px;height:100%;background:#55304e;"></div><div style="float:left;width:4px;height:100%;background:#8a7418;"></div><div style="float:left;width:11px;height:100%;background:#55304e;"></div><div style="float:left;width:15px;height:100%;background:#6e2842;"></div></div><div class="sb" style="left:214px;top:1px;width:86px;height:19px;"><div style="float:left;width:2px;height:100%;background:#55304e;"></div><div style="float:left;width:5px;height:100%;background:#8a7418;"></div><div style="float:left;width:13px;height:100%;background:#55304e;"></div></div><div class="bar" style="left:324.4px;top:1px;width:72px;height:19px"></div><div class="sn" style="left:0;width:198px;top:0">37,291</div><div class="sn" style="left:0;width:298px;top:0">31,308</div><div class="sn" style="left:0;width:394px;top:0">24,955,572</div></div><div class="r" style="top:896px;"><div class="sn" style="left:0;width:198px;top:0">0</div><div class="sn" style="left:0;width:298px;top:0">0</div></div><div class="r" style="top:917px;"><div class="bar" style="left:19.5px;top:1px;width:77px;height:19px"></div><div class="sn" style="left:0;width:93.5px;top:0">41</div><div class="sb" style="left:169.20000000000005px;top:1px;width:31px;height:19px;"><div style="float:left;width:8px;height:100%;background:#8a7418;"></div><div style="float:left;width:8px;height:100%;background:#6e2842;"></div><div style="float:left;width:6px;height:100%;background:#55304e;"></div></div><div class="sb" style="left:270px;top:1px;width:30px;height:19px;"><div style="float:left;width:8px;height:100%;background:#8a7418;"></div><div style="float:left;width:9px;height:100%;background:#55304e;"></div></div><div class="bar" style="left:364.4px;top:1px;width:32px;height:19px"></div><div class="sn" style="left:0;width:198px;top:0">13,567</div><div class="sn" style="left:0;width:298px;top:0">10,861</div><div class="sn" style="left:0;width:394px;top:0">11,115,681</div></div><div class="r" style="top:938px;"><div class="sn" style="left:0;width:198px;top:0">0</div><div class="sn" style="left:0;width:298px;top:0">0</div></div><div class="r" style="top:959px;"><div class="bar" style="left:68.5px;top:1px;width:28px;height:19px"></div><div class="sn" style="left:0;width:93.5px;top:0">15</div><div class="sn" style="left:0;width:198px;top:0">19</div><div class="sn" style="left:0;width:298px;top:0">15</div><div class="sn" style="left:0;width:394px;top:0">5,088</div></div><div class="r" style="top:980px;"><div class="sn" style="left:0;width:198px;top:0">0</div><div class="sn" style="left:0;width:298px;top:0">0</div></div><div class="r" style="top:1001px;"><div class="sn" style="left:0;width:198px;top:0">0</div><div class="sn" style="left:0;width:298px;top:0">0</div></div><div class="r" style="top:1022px;"><div class="sn" style="left:0;width:198px;top:0">0</div><div class="sn" style="left:0;width:298px;top:0">0</div></div><div class="r" style="top:1043px;"><div class="sn" style="left:0;width:198px;top:0">0</div><div class="sn" style="left:0;width:298px;top:0">0</div></div></div><div class="a" style="left:1033px;top:993px;width:7px;height:6px;background:#ffffff"></div><div class="a" style="left:1033px;top:1114px;width:7px;height:5px;background:#a0208a"></div><div class="a" style="left:1026px;top:1125px;width:7px;height:5px;background:#4cb04c"></div><div class="a" style="left:1033px;top:1125px;width:7px;height:15px;background:#d02838"></div><div class="a" style="left:1033px;top:1146px;width:7px;height:15px;background:#ffcc66"></div><div class="a" style="left:1033px;top:1167px;width:7px;height:5px;background:#ffcc66"></div><div class="a" style="left:1033px;top:1172px;width:7px;height:5px;background:#a0208a"></div><div class="a" style="left:1033px;top:1182px;width:7px;height:6px;background:#ffb84a"></div><div class="a" style="left:1033px;top:1193px;width:7px;height:5px;background:#ff5a10"></div><div class="a" style="left:1042px;top:681px;width:2px;height:2px;background:#9a9a9a"></div><div class="a" style="left:1042px;top:684px;width:2px;height:2px;background:#9a9a9a"></div><div class="a" style="left:1042px;top:687px;width:2px;height:2px;background:#9a9a9a"></div><div class="a" style="left:1042px;top:690px;width:2px;height:2px;background:#9a9a9a"></div><div class="a" style="left:1042px;top:693px;width:2px;height:2px;background:#9a9a9a"></div><div class="a" style="left:1042px;top:696px;width:2px;height:2px;background:#9a9a9a"></div><div class="a" style="left:1044px;top:175px;width:524px;height:34px;background:#262626"></div><div class="a" style="left:1045px;top:176px;width:522px;height:32px;background:linear-gradient(#424242,#3c3c3c);border-top:1px solid #585858;box-sizing:border-box"></div><div class="a" style="left:1074px;top:177px;width:1px;height:31px;background:#505050"></div><div class="a" style="left:1208px;top:177px;width:1px;height:31px;background:#505050"></div><div class="a" style="left:1044px;top:208px;width:524px;height:1050px;background:#262626"></div><div class="a" style="left:1045px;top:208px;width:522px;height:1036px;background:#2a2a2a"></div><div class="a t" style="top:192px;left:574px;width:500px;text-align:right;letter-spacing:0.15px;">#</div><div class="a t" style="top:192px;left:1078px;letter-spacing:0.15px;">Address</div><div class="a t" style="top:192px;left:1211px;letter-spacing:0.15px;">Source</div><div class="a" style="left:1045px;top:1244px;width:522px;height:13px;background:#3c3c3c"></div><div class="a" style="left:1045px;top:1244px;width:13px;height:13px;box-sizing:border-box;border:1px solid #575757;background:#3c3c3c"></div><div class="a" style="left:1048.5px;top:1245.8px;width:0;height:0;border-top:4.0px solid transparent;border-bottom:4.0px solid transparent;border-right:4px solid #bdbdbd;"></div><div class="a" style="left:1554px;top:1244px;width:13px;height:13px;box-sizing:border-box;border:1px solid #575757;background:#3c3c3c"></div><div class="a" style="left:1557.5px;top:1245.8px;width:0;height:0;border-top:4.0px solid transparent;border-bottom:4.0px solid transparent;border-left:4px solid #bdbdbd;"></div><div class="a" style="left:1060px;top:1244px;width:403px;height:13px;box-sizing:border-box;border:1px solid #575757;background:#434343"></div><div class="a" style="left:1568px;top:176px;width:6px;height:1081px;background:#353535"></div><div class="a" style="left:1572px;top:176px;width:1px;height:1081px;background:#4a4a4a"></div><div class="a" style="left:1045px;top:208px;width:522px;height:1036px;overflow:hidden"><div class="r" style="top:1px;"><div class="m n" style="left:0;width:28px;top:1px;color:#a8a8a8">11</div><div class="m a" style="left:33.5px;top:1px">00007fa0 62f9dea0</div><div class="m a" style="left:203.5999999999999px;top:1px;width:318.4000000000001px;overflow:hidden"><span style="letter-spacing:-0.366px">S2R <span class="rg">R3</span>, <span class="rg">SR_CTAID.X</span></span></div></div><div class="r" style="top:22px;"><div class="m n" style="left:0;width:28px;top:1px;color:#a8a8a8">12</div><div class="m a" style="left:33.5px;top:1px">00007fa0 62f9deb0</div><div class="m a" style="left:203.5999999999999px;top:1px;width:318.4000000000001px;overflow:hidden"><span style="letter-spacing:-0.397px">IMAD.MOV.U32 <span class="rg">R46</span>, <span class="rg">RZ</span>, <span class="rg">RZ</span>, <span class="nu">0x8</span></span></div></div><div class="r" style="top:43px;"><div class="m n" style="left:0;width:28px;top:1px;color:#a8a8a8">13</div><div class="m a" style="left:33.5px;top:1px">00007fa0 62f9dec0</div><div class="m a" style="left:203.5999999999999px;top:1px;width:318.4000000000001px;overflow:hidden"><span style="letter-spacing:-0.413px">ISETP.LT.AND <span class="bl">P0, </span><span class="bl">PT, </span><span class="rg">R52</span>, -<span class="nu">0x1</span>, <span class="bl">PT</span></span></div></div><div class="r" style="top:64px;"><div class="m n" style="left:0;width:28px;top:1px;color:#a8a8a8">14</div><div class="m a" style="left:33.5px;top:1px">00007fa0 62f9ded0</div><div class="m a" style="left:203.5999999999999px;top:1px;width:318.4000000000001px;overflow:hidden"><span style="letter-spacing:-0.375px">IMAD <span class="rg">R57</span>, <span class="rg">R57</span>, c[<span class="nu">0x0</span>][<span class="nu">0x188</span>], <span class="rg">RZ</span></span></div></div><div class="r" style="top:85px;"><div class="m n" style="left:0;width:28px;top:1px;color:#a8a8a8">15</div><div class="m a" style="left:33.5px;top:1px">00007fa0 62f9dee0</div><div class="m a" style="left:203.5999999999999px;top:1px;width:318.4000000000001px;overflow:hidden"><span style="letter-spacing:-0.401px">MOV <span class="rg">R56</span>, c[<span class="nu">0x0</span>][<span class="nu">0x164</span>]</span></div></div><div class="r" style="top:106px;"><div class="m n" style="left:0;width:28px;top:1px;color:#a8a8a8">16</div><div class="m a" style="left:33.5px;top:1px">00007fa0 62f9def0</div><div class="m a" style="left:203.5999999999999px;top:1px;width:318.4000000000001px;overflow:hidden"><span style="letter-spacing:-0.415px">SEL <span class="rg">R52</span>, <span class="rg">R52</span>, <span class="nu">0xffffffff</span>, !<span class="bl">P0</span></span></div></div><div class="r" style="top:127px;"><div class="m n" style="left:0;width:28px;top:1px;color:#a8a8a8">17</div><div class="m a" style="left:33.5px;top:1px">00007fa0 62f9df00</div><div class="m a" style="left:203.5999999999999px;top:1px;width:318.4000000000001px;overflow:hidden"><span style="letter-spacing:-0.417px">IMAD.WIDE <span class="rg">R50</span>, <span class="rg">R57</span>, <span class="rg">R46</span>, c[<span class="nu">0x0</span>][<span class="nu">0x168</span>]</span></div></div><div class="r" style="top:148px;"><div class="m n" style="left:0;width:28px;top:1px;color:#a8a8a8">18</div><div class="m a" style="left:33.5px;top:1px">00007fa0 62f9df10</div><div class="m a" style="left:203.5999999999999px;top:1px;width:318.4000000000001px;overflow:hidden"><span style="letter-spacing:-0.385px">IADD3 <span class="rg">R52</span>, <span class="rg">R52</span>, c[<span class="nu">0x0</span>][<span class="nu">0x160</span>], <span class="rg">RZ</span></span></div></div><div class="r" style="top:169px;"><div class="m n" style="left:0;width:28px;top:1px;color:#a8a8a8">19</div><div class="m a" style="left:33.5px;top:1px">00007fa0 62f9df20</div><div class="m a" style="left:203.5999999999999px;top:1px;width:318.4000000000001px;overflow:hidden"><span style="letter-spacing:-0.417px">IMAD.WIDE <span class="rg">R48</span>, <span class="rg">R57</span>, <span class="rg">R46</span>, c[<span class="nu">0x0</span>][<span class="nu">0x170</span>]</span></div></div><div class="r" style="top:190px;"><div class="m n" style="left:0;width:28px;top:1px;color:#a8a8a8">20</div><div class="m a" style="left:33.5px;top:1px">00007fa0 62f9df30</div><div class="m a" style="left:203.5999999999999px;top:1px;width:318.4000000000001px;overflow:hidden"><span style="letter-spacing:-0.377px">LOP3.LUT <span class="bl">P1, </span><span class="rg">RZ</span>, <span class="rg">R52</span>, <span class="nu">0x1</span>, <span class="rg">RZ</span>, <span class="nu">0xc0</span>, !<span class="bl">PT</span></span></div></div><div class="r" style="top:211px;"><div class="m n" style="left:0;width:28px;top:1px;color:#a8a8a8">21</div><div class="m a" style="left:33.5px;top:1px">00007fa0 62f9df40</div><div class="m a" style="left:203.5999999999999px;top:1px;width:318.4000000000001px;overflow:hidden"><span style="letter-spacing:-0.417px">IMAD.WIDE <span class="rg">R46</span>, <span class="rg">R57</span>, <span class="rg">R46</span>, c[<span class="nu">0x0</span>][<span class="nu">0x178</span>]</span></div></div><div class="r" style="top:232px;"><div class="m n" style="left:0;width:28px;top:1px;color:#a8a8a8">22</div><div class="m a" style="left:33.5px;top:1px">00007fa0 62f9df50</div><div class="m a" style="left:203.5999999999999px;top:1px;width:318.4000000000001px;overflow:hidden"><span style="letter-spacing:-0.394px">ISETP.NE.AND <span class="bl">P0, </span><span class="bl">PT, </span><span class="rg">R52</span>, <span class="rg">RZ</span>, <span class="bl">PT</span></span></div></div><div class="r" style="top:253px;"><div class="m n" style="left:0;width:28px;top:1px;color:#a8a8a8">23</div><div class="m a" style="left:33.5px;top:1px">00007fa0 62f9df60</div><div class="m a" style="left:203.5999999999999px;top:1px;width:318.4000000000001px;overflow:hidden"><span style="letter-spacing:-0.146px">P2R <span class="rg">R0</span>, PR, <span class="rg">RZ</span>, <span class="nu">0x2</span></span></div></div><div class="r" style="top:274px;"><div class="m n" style="left:0;width:28px;top:1px;color:#a8a8a8">24</div><div class="m a" style="left:33.5px;top:1px">00007fa0 62f9df70</div><div class="m a" style="left:203.5999999999999px;top:1px;width:318.4000000000001px;overflow:hidden"><span style="letter-spacing:-0.146px">P2R <span class="rg">R0</span>, PR, <span class="rg">RZ</span>, <span class="nu">0x1</span></span></div></div><div class="r" style="top:295px;"><div class="m n" style="left:0;width:28px;top:1px;color:#a8a8a8">25</div><div class="m a" style="left:33.5px;top:1px">00007fa0 62f9df80</div><div class="m a" style="left:203.5999999999999px;top:1px;width:318.4000000000001px;overflow:hidden"><span style="letter-spacing:-0.319px">IMAD <span class="rg">R54</span>, <span class="rg">R3</span>, <span class="nu">0x80</span>, <span class="rg">R54</span></span></div></div><div class="r" style="top:316px;"><div class="m n" style="left:0;width:28px;top:1px;color:#a8a8a8">26</div><div class="m a" style="left:33.5px;top:1px">00007fa0 62f9df90</div><div class="m a" style="left:203.5999999999999px;top:1px;width:318.4000000000001px;overflow:hidden"><span style="letter-spacing:-0.395px">IADD3 <span class="rg">R55</span>, <span class="rg">R54</span>, -c[<span class="nu">0x0</span>][<span class="nu">0x164</span>], <span class="rg">R55</span></span></div></div><div class="r" style="top:337px;"><div class="m n" style="left:0;width:28px;top:1px;color:#a8a8a8">27</div><div class="m a" style="left:33.5px;top:1px">00007fa0 62f9dfa0</div><div class="m a" style="left:203.5999999999999px;top:1px;width:318.4000000000001px;overflow:hidden"><span style="letter-spacing:-0.386px">IMAD.IADD <span class="rg">R54</span>, <span class="rg">R54</span>, <span class="nu">0x1</span>, <span class="rg">R57</span></span></div></div><div class="r" style="top:358px;"><div class="m n" style="left:0;width:28px;top:1px;color:#a8a8a8">28</div><div class="m a" style="left:33.5px;top:1px">00007fa0 62f9dfb0</div><div class="m a bl" style="left:167px;top:1px">@!PT</div><div class="m a" style="left:203.5999999999999px;top:1px;width:318.4000000000001px;overflow:hidden"><span style="letter-spacing:-0.285px">SHFL.IDX <span class="bl">PT, </span><span class="rg">RZ</span>, <span class="rg">RZ</span>, <span class="rg">RZ</span>, <span class="rg">RZ</span></span></div></div><div class="r" style="top:379px;"><div class="m n" style="left:0;width:28px;top:1px;color:#a8a8a8">29</div><div class="m a" style="left:33.5px;top:1px">00007fa0 62f9dfc0</div><div class="m a" style="left:203.5999999999999px;top:1px;width:318.4000000000001px;overflow:hidden"><span style="letter-spacing:-0.394px">ISETP.GT.AND <span class="bl">P0, </span><span class="bl">PT, </span><span class="rg">R55</span>, <span class="rg">RZ</span>, <span class="bl">PT</span></span></div></div><div class="r" style="top:400px;"><div class="m n" style="left:0;width:28px;top:1px;color:#a8a8a8">30</div><div class="m a" style="left:33.5px;top:1px">00007fa0 62f9dfd0</div><div class="m a" style="left:203.5999999999999px;top:1px;width:318.4000000000001px;overflow:hidden"><span style="letter-spacing:-0.401px">BMOV<span class="nu">.32</span>.CLEAR <span class="rg">RZ</span>, B8</span></div></div><div class="r" style="top:421px;"><div class="m n" style="left:0;width:28px;top:1px;color:#a8a8a8">31</div><div class="m a" style="left:33.5px;top:1px">00007fa0 62f9dfe0</div><div class="m a" style="left:203.5999999999999px;top:1px;width:318.4000000000001px;overflow:hidden"><span style="letter-spacing:-0.451px">BSSY B8, <span class="nu">0x7fa062fa0110</span></span></div></div><div class="r" style="top:442px;"><div class="m n" style="left:0;width:28px;top:1px;color:#a8a8a8">32</div><div class="m a" style="left:33.5px;top:1px">00007fa0 62f9dff0</div><div class="m a bl" style="left:167px;top:1px">@P0</div><div class="m a" style="left:203.5999999999999px;top:1px;width:318.4000000000001px;overflow:hidden"><span style="letter-spacing:-0.248px"><span class="bl">BRA</span> <span class="nu">0x7fa062fa0100</span></span></div></div><div class="r" style="top:463px;"><div class="m n" style="left:0;width:28px;top:1px;color:#a8a8a8">33</div><div class="m a" style="left:33.5px;top:1px">00007fa0 62f9e000</div><div class="m a" style="left:203.5999999999999px;top:1px;width:318.4000000000001px;overflow:hidden"><span style="letter-spacing:-0.377px">LOP3.LUT <span class="bl">P1, </span><span class="rg">RZ</span>, <span class="rg">R52</span>, <span class="nu">0x1</span>, <span class="rg">RZ</span>, <span class="nu">0xc0</span>, !<span class="bl">PT</span></span></div></div><div class="r" style="top:484px;"><div class="m n" style="left:0;width:28px;top:1px;color:#a8a8a8">34</div><div class="m a" style="left:33.5px;top:1px">00007fa0 62f9e010</div><div class="m a" style="left:203.5999999999999px;top:1px;width:318.4000000000001px;overflow:hidden"><span style="letter-spacing:-0.397px">IMAD.MOV.U32 <span class="rg">R31</span>, <span class="rg">RZ</span>, <span class="rg">RZ</span>, <span class="nu">0x8</span></span></div></div><div class="r" style="top:505px;background:#2c3c49;"><div class="m n" style="left:0;width:28px;top:1px;color:#a8a8a8">35</div><div class="m a" style="left:33.5px;top:1px">00007fa0 62f9e020</div><div class="m a" style="left:203.5999999999999px;top:1px;width:318.4000000000001px;overflow:hidden"><span style="letter-spacing:-0.329px">MOV <span class="rg">R16</span>, <span class="rg">R57</span></span></div></div><div class="r" style="top:526px;background:#2c3c49;"><div class="m n" style="left:0;width:28px;top:1px;color:#a8a8a8">36</div><div class="m a" style="left:33.5px;top:1px">00007fa0 62f9e030</div><div class="m a" style="left:203.5999999999999px;top:1px;width:318.4000000000001px;overflow:hidden"><span style="letter-spacing:-0.424px">IMAD.MOV.U32 <span class="rg">R53</span>, <span class="rg">RZ</span>, <span class="rg">RZ</span>, c[<span class="nu">0x0</span>][<span class="nu">0x160</span>]</span></div></div><div class="r" style="top:547px;background:#2c3c49;"><div class="m n" style="left:0;width:28px;top:1px;color:#a8a8a8">37</div><div class="m a" style="left:33.5px;top:1px">00007fa0 62f9e040</div><div class="m a" style="left:203.5999999999999px;top:1px;width:318.4000000000001px;overflow:hidden"><span style="letter-spacing:-0.417px">IMAD.WIDE <span class="rg">R34</span>, <span class="rg">R54</span>, <span class="rg">R31</span>, c[<span class="nu">0x0</span>][<span class="nu">0x168</span>]</span></div></div><div class="r" style="top:568px;background:#2c3c49;"><div class="m n" style="left:0;width:28px;top:1px;color:#a8a8a8">38</div><div class="m a" style="left:33.5px;top:1px">00007fa0 62f9e050</div><div class="m a" style="left:203.5999999999999px;top:1px;width:318.4000000000001px;overflow:hidden"><span style="letter-spacing:-0.417px">IMAD.WIDE <span class="rg">R32</span>, <span class="rg">R54</span>, <span class="rg">R31</span>, c[<span class="nu">0x0</span>][<span class="nu">0x170</span>]</span></div></div><div class="r" style="top:589px;background:#2c3c49;"><div class="m n" style="left:0;width:28px;top:1px;color:#a8a8a8">39</div><div class="m a" style="left:33.5px;top:1px">00007fa0 62f9e060</div><div class="m a" style="left:203.5999999999999px;top:1px;width:318.4000000000001px;overflow:hidden"><span style="letter-spacing:-0.417px">IMAD.WIDE <span class="rg">R30</span>, <span class="rg">R54</span>, <span class="rg">R31</span>, c[<span class="nu">0x0</span>][<span class="nu">0x178</span>]</span></div></div><div class="r" style="top:610px;background:#2c3c49;"><div class="m n" style="left:0;width:28px;top:1px;color:#a8a8a8">40</div><div class="m a" style="left:33.5px;top:1px">00007fa0 62f9e070</div><div class="m a bl" style="left:167px;top:1px">@P1</div><div class="m a" style="left:203.5999999999999px;top:1px;width:318.4000000000001px;overflow:hidden"><span style="letter-spacing:-0.248px"><span class="bl">BRA</span> <span class="nu">0x7fa062f9eb40</span></span></div></div><div class="r" style="top:631px;background:#2c3c49;"><div class="m n" style="left:0;width:28px;top:1px;color:#a8a8a8">41</div><div class="m a" style="left:33.5px;top:1px">00007fa0 62f9e080</div><div class="m a" style="left:203.5999999999999px;top:1px;width:318.4000000000001px;overflow:hidden"><span style="letter-spacing:-0.414px"><span class="bl">LDG</span>.E<span class="nu">.64</span>.CONSTANT.SYS <span class="rg">R18</span>, [<span class="rg">R50</span>]</span></div></div><div class="r" style="top:652px;background:#2c3c49;"><div class="m n" style="left:0;width:28px;top:1px;color:#a8a8a8">42</div><div class="m a" style="left:33.5px;top:1px">00007fa0 62f9e090</div><div class="m a" style="left:203.5999999999999px;top:1px;width:318.4000000000001px;overflow:hidden"><span style="letter-spacing:-0.387px"><span class="bl">LDG</span>.E<span class="nu">.64</span>.CONSTANT.SYS <span class="rg">R2</span>, [<span class="rg">R34</span>]</span></div></div><div class="r" style="top:673px;"><div class="m n" style="left:0;width:28px;top:1px;color:#a8a8a8">43</div><div class="m a" style="left:33.5px;top:1px">00007fa0 62f9e0a0</div><div class="m a" style="left:203.5999999999999px;top:1px;width:318.4000000000001px;overflow:hidden"><span style="letter-spacing:-0.414px"><span class="bl">LDG</span>.E<span class="nu">.64</span>.CONSTANT.SYS <span class="rg">R16</span>, [<span class="rg">R48</span>]</span></div></div><div class="r" style="top:694px;"><div class="m n" style="left:0;width:28px;top:1px;color:#a8a8a8">44</div><div class="m a" style="left:33.5px;top:1px">00007fa0 62f9e0b0</div><div class="m a" style="left:203.5999999999999px;top:1px;width:318.4000000000001px;overflow:hidden"><span style="letter-spacing:-0.387px"><span class="bl">LDG</span>.E<span class="nu">.64</span>.CONSTANT.SYS <span class="rg">R6</span>, [<span class="rg">R32</span>]</span></div></div><div class="r" style="top:715px;"><div class="m n" style="left:0;width:28px;top:1px;color:#a8a8a8">45</div><div class="m a" style="left:33.5px;top:1px">00007fa0 62f9e0c0</div><div class="m a" style="left:203.5999999999999px;top:1px;width:318.4000000000001px;overflow:hidden"><span style="letter-spacing:-0.414px"><span class="bl">LDG</span>.E<span class="nu">.64</span>.CONSTANT.SYS <span class="rg">R22</span>, [<span class="rg">R46</span>]</span></div></div><div class="r" style="top:736px;"><div class="m n" style="left:0;width:28px;top:1px;color:#a8a8a8">46</div><div class="m a" style="left:33.5px;top:1px">00007fa0 62f9e0d0</div><div class="m a" style="left:203.5999999999999px;top:1px;width:318.4000000000001px;overflow:hidden"><span style="letter-spacing:-0.387px"><span class="bl">LDG</span>.E<span class="nu">.64</span>.CONSTANT.SYS <span class="rg">R8</span>, [<span class="rg">R30</span>]</span></div></div><div class="r" style="top:757px;"><div class="m n" style="left:0;width:28px;top:1px;color:#a8a8a8">47</div><div class="m a" style="left:33.5px;top:1px">00007fa0 62f9e0e0</div><div class="m a" style="left:203.5999999999999px;top:1px;width:318.4000000000001px;overflow:hidden"><span style="letter-spacing:-0.436px">MUFU.RCP64H <span class="rg">R5</span>, c[<span class="nu">0x0</span>][<span class="nu">0x194</span>]</span></div></div><div class="r" style="top:778px;"><div class="m n" style="left:0;width:28px;top:1px;color:#a8a8a8">48</div><div class="m a" style="left:33.5px;top:1px">00007fa0 62f9e0f0</div><div class="m a" style="left:203.5999999999999px;top:1px;width:318.4000000000001px;overflow:hidden"><span style="letter-spacing:-0.424px">IMAD.MOV.U32 <span class="rg">R10</span>, <span class="rg">RZ</span>, <span class="rg">RZ</span>, c[<span class="nu">0x0</span>][<span class="nu">0x190</span>]</span></div></div><div class="r" style="top:799px;"><div class="m n" style="left:0;width:28px;top:1px;color:#a8a8a8">49</div><div class="m a" style="left:33.5px;top:1px">00007fa0 62f9e100</div><div class="m a" style="left:203.5999999999999px;top:1px;width:318.4000000000001px;overflow:hidden"><span style="letter-spacing:-0.401px">BMOV<span class="nu">.32</span>.CLEAR <span class="rg">RZ</span>, B6</span></div></div><div class="r" style="top:820px;"><div class="m n" style="left:0;width:28px;top:1px;color:#a8a8a8">50</div><div class="m a" style="left:33.5px;top:1px">00007fa0 62f9e110</div><div class="m a" style="left:203.5999999999999px;top:1px;width:318.4000000000001px;overflow:hidden"><span style="letter-spacing:-0.424px">IMAD.MOV.U32 <span class="rg">R11</span>, <span class="rg">RZ</span>, <span class="rg">RZ</span>, c[<span class="nu">0x0</span>][<span class="nu">0x194</span>]</span></div></div><div class="r" style="top:841px;"><div class="m n" style="left:0;width:28px;top:1px;color:#a8a8a8">51</div><div class="m a" style="left:33.5px;top:1px">00007fa0 62f9e120</div><div class="m a" style="left:203.5999999999999px;top:1px;width:318.4000000000001px;overflow:hidden"><span style="letter-spacing:-0.451px">BSSY B6, <span class="nu">0x7fa062f9e290</span></span></div></div><div class="r" style="top:862px;"><div class="m n" style="left:0;width:28px;top:1px;color:#a8a8a8">52</div><div class="m a" style="left:33.5px;top:1px">00007fa0 62f9e130</div><div class="m a" style="left:203.5999999999999px;top:1px;width:318.4000000000001px;overflow:hidden"><span style="letter-spacing:-0.386px">IMAD.MOV.U32 <span class="rg">R4</span>, <span class="rg">RZ</span>, <span class="rg">RZ</span>, <span class="nu">0x1</span></span></div></div><div class="r" style="top:883px;"><div class="m n" style="left:0;width:28px;top:1px;color:#a8a8a8">53</div><div class="m a" style="left:33.5px;top:1px">00007fa0 62f9e140</div><div class="m a" style="left:203.5999999999999px;top:1px;width:318.4000000000001px;overflow:hidden"><span style="letter-spacing:-0.316px">DFMA <span class="rg">R10</span>, <span class="rg">R4</span>, -<span class="rg">R10</span>, <span class="nu">1</span></span></div></div><div class="r" style="top:904px;"><div class="m n" style="left:0;width:28px;top:1px;color:#a8a8a8">54</div><div class="m a" style="left:33.5px;top:1px">00007fa0 62f9e150</div><div class="m a" style="left:203.5999999999999px;top:1px;width:318.4000000000001px;overflow:hidden"><span style="letter-spacing:-0.319px">DFMA <span class="rg">R10</span>, <span class="rg">R10</span>, <span class="rg">R10</span>, <span class="rg">R10</span></span></div></div><div class="r" style="top:925px;"><div class="m n" style="left:0;width:28px;top:1px;color:#a8a8a8">55</div><div class="m a" style="left:33.5px;top:1px">00007fa0 62f9e160</div><div class="m a" style="left:203.5999999999999px;top:1px;width:318.4000000000001px;overflow:hidden"><span style="letter-spacing:-0.264px">DFMA <span class="rg">R4</span>, <span class="rg">R4</span>, <span class="rg">R10</span>, <span class="rg">R4</span></span></div></div><div class="r" style="top:946px;background:#2c3c49;"><div class="m n" style="left:0;width:28px;top:1px;color:#a8a8a8">56</div><div class="m a" style="left:33.5px;top:1px">00007fa0 62f9e170</div><div class="m a" style="left:203.5999999999999px;top:1px;width:318.4000000000001px;overflow:hidden"><span style="letter-spacing:-0.336px">DADD <span class="rg">R18</span>, -<span class="rg">R18</span>, <span class="rg">R2</span></span></div></div><div class="r" style="top:967px;"><div class="m n" style="left:0;width:28px;top:1px;color:#a8a8a8">57</div><div class="m a" style="left:33.5px;top:1px">00007fa0 62f9e180</div><div class="m a" style="left:203.5999999999999px;top:1px;width:318.4000000000001px;overflow:hidden"><span style="letter-spacing:-0.255px">DMUL <span class="rg">R2</span>, <span class="rg">R18</span>, <span class="rg">R4</span></span></div></div><div class="r" style="top:988px;"><div class="m n" style="left:0;width:28px;top:1px;color:#a8a8a8">58</div><div class="m a" style="left:33.5px;top:1px">00007fa0 62f9e190</div><div class="m a" style="left:203.5999999999999px;top:1px;width:318.4000000000001px;overflow:hidden">FSETP.GTU.AND <span class="bl">P1, </span><span class="bl">PT, </span>|<span class="rg">R19</span>|, <span class="nu">6.449055792515625</span></div></div><div class="r" style="top:1009px;"><div class="m n" style="left:0;width:28px;top:1px;color:#a8a8a8">59</div><div class="m a" style="left:33.5px;top:1px">00007fa0 62f9e1a0</div><div class="m a" style="left:203.5999999999999px;top:1px;width:318.4000000000001px;overflow:hidden"><span style="letter-spacing:-0.336px">DADD <span class="rg">R16</span>, -<span class="rg">R16</span>, <span class="rg">R6</span></span></div></div></div><div class="a" style="left:1574px;top:175px;width:314px;height:34px;background:#262626"></div><div class="a" style="left:1575px;top:176px;width:312px;height:32px;background:linear-gradient(#424242,#3c3c3c);border-top:1px solid #585858;box-sizing:border-box"></div><div class="a" style="left:1622px;top:177px;width:1px;height:31px;background:#505050"></div><div class="a" style="left:1722px;top:177px;width:1px;height:31px;background:#505050"></div><div class="a" style="left:1822px;top:177px;width:1px;height:31px;background:#505050"></div><div class="a" style="left:1574px;top:208px;width:327px;height:1050px;background:#262626"></div><div class="a" style="left:1575px;top:208px;width:312px;height:1036px;background:#2a2a2a"></div><div class="a" style="left:1575px;top:176px;width:47px;height:32px;overflow:hidden"><div class="a t" style="top:2px;left:-453px;width:500px;text-align:right;letter-spacing:0.6px;font-weight:bold;">Instructions</div><div class="a t" style="top:16px;left:-453px;width:500px;text-align:right;letter-spacing:0.6px;font-weight:bold;">Executed</div></div><div class="a" style="left:1625px;top:176px;width:97px;height:32px;overflow:hidden"><div class="a t" style="top:2px;left:-403px;width:500px;text-align:right;letter-spacing:0.38px;">Dedicated-On Thread</div><div class="a t" style="top:16px;left:-403px;width:500px;text-align:right;letter-spacing:0.55px;">Instructions Executed</div></div><div class="a t" style="top:178px;left:1322px;width:500px;text-align:right;letter-spacing:0.15px;">Avg Thread</div><div class="a t" style="top:192px;left:1322px;width:500px;text-align:right;letter-spacing:0.15px;">Executed</div><div class="a" style="left:1823px;top:176px;width:63px;height:32px;overflow:hidden"><div class="a t" style="top:2px;left:37px;letter-spacing:0.15px;">Diverged</div><div class="a t" style="top:16px;left:43px;letter-spacing:0.15px;">Branches</div></div><div class="a" style="left:1887px;top:176px;width:13px;height:1068px;background:#3c3c3c"></div><div class="a" style="left:1887px;top:176px;width:13px;height:13px;box-sizing:border-box;border:1px solid #575757;background:#3c3c3c"></div><div class="a" style="left:1889.5px;top:180.0px;width:0;height:0;border-left:4.0px solid transparent;border-right:4.0px solid transparent;border-bottom:4px solid #bdbdbd;"></div><div class="a" style="left:1887px;top:1231px;width:13px;height:13px;box-sizing:border-box;border:1px solid #575757;background:#3c3c3c"></div><div class="a" style="left:1889.5px;top:1234.5px;width:0;height:0;border-left:4.0px solid transparent;border-right:4.0px solid transparent;border-top:4px solid #bdbdbd;"></div><div class="a" style="left:1887px;top:388px;width:13px;height:72px;box-sizing:border-box;border:1px solid #5a5a5a;background:#454545"></div><div class="a" style="left:1575px;top:1244px;width:311px;height:13px;background:#3c3c3c"></div><div class="a" style="left:1575px;top:1244px;width:13px;height:13px;box-sizing:border-box;border:1px solid #575757;background:#3c3c3c"></div><div class="a" style="left:1578.5px;top:1245.8px;width:0;height:0;border-top:4.0px solid transparent;border-bottom:4.0px solid transparent;border-right:4px solid #bdbdbd;"></div><div class="a" style="left:1873px;top:1244px;width:13px;height:13px;box-sizing:border-box;border:1px solid #575757;background:#3c3c3c"></div><div class="a" style="left:1876.5px;top:1245.8px;width:0;height:0;border-top:4.0px solid transparent;border-bottom:4.0px solid transparent;border-left:4px solid #bdbdbd;"></div><div class="a" style="left:1609px;top:1244px;width:26px;height:13px;box-sizing:border-box;border:1px solid #575757;background:#434343"></div><div class="a" style="left:1887px;top:1244px;width:13px;height:13px;background:#353535"></div><div class="a" style="left:1575px;top:208px;width:312px;height:1036px;overflow:hidden"><div class="r" style="top:1px;"><div class="sn" style="left:0;width:43px;top:0">212</div><div class="sn" style="left:0;width:143px;top:0">6,784</div><div class="bar" style="left:151px;top:1px;width:95px;height:19px"></div><div class="sn" style="left:0;width:243px;top:0">32</div></div><div class="r" style="top:22px;"><div class="sn" style="left:0;width:43px;top:0">212</div><div class="sn" style="left:0;width:143px;top:0">6,784</div><div class="bar" style="left:151px;top:1px;width:95px;height:19px"></div><div class="sn" style="left:0;width:243px;top:0">32</div></div><div class="r" style="top:43px;"><div class="sn" style="left:0;width:43px;top:0">212</div><div class="sn" style="left:0;width:143px;top:0">6,784</div><div class="bar" style="left:151px;top:1px;width:95px;height:19px"></div><div class="sn" style="left:0;width:243px;top:0">32</div></div><div class="r" style="top:64px;"><div class="sn" style="left:0;width:43px;top:0">212</div><div class="sn" style="left:0;width:143px;top:0">6,784</div><div class="bar" style="left:151px;top:1px;width:95px;height:19px"></div><div class="sn" style="left:0;width:243px;top:0">32</div></div><div class="r" style="top:85px;"><div class="sn" style="left:0;width:43px;top:0">212</div><div class="sn" style="left:0;width:143px;top:0">6,784</div><div class="bar" style="left:151px;top:1px;width:95px;height:19px"></div><div class="sn" style="left:0;width:243px;top:0">32</div></div><div class="r" style="top:106px;"><div class="sn" style="left:0;width:43px;top:0">212</div><div class="sn" style="left:0;width:143px;top:0">6,784</div><div class="bar" style="left:151px;top:1px;width:95px;height:19px"></div><div class="sn" style="left:0;width:243px;top:0">32</div></div><div class="r" style="top:127px;"><div class="sn" style="left:0;width:43px;top:0">212</div><div class="sn" style="left:0;width:143px;top:0">6,784</div><div class="bar" style="left:151px;top:1px;width:95px;height:19px"></div><div class="sn" style="left:0;width:243px;top:0">32</div></div><div class="r" style="top:148px;"><div class="sn" style="left:0;width:43px;top:0">212</div><div class="sn" style="left:0;width:143px;top:0">6,784</div><div class="bar" style="left:151px;top:1px;width:95px;height:19px"></div><div class="sn" style="left:0;width:243px;top:0">32</div></div><div class="r" style="top:169px;"><div class="sn" style="left:0;width:43px;top:0">212</div><div class="sn" style="left:0;width:143px;top:0">6,784</div><div class="bar" style="left:151px;top:1px;width:95px;height:19px"></div><div class="sn" style="left:0;width:243px;top:0">32</div></div><div class="r" style="top:190px;"><div class="sn" style="left:0;width:43px;top:0">212</div><div class="sn" style="left:0;width:143px;top:0">6,784</div><div class="bar" style="left:151px;top:1px;width:95px;height:19px"></div><div class="sn" style="left:0;width:243px;top:0">32</div></div><div class="r" style="top:211px;"><div class="sn" style="left:0;width:43px;top:0">212</div><div class="sn" style="left:0;width:143px;top:0">6,784</div><div class="bar" style="left:151px;top:1px;width:95px;height:19px"></div><div class="sn" style="left:0;width:243px;top:0">32</div></div><div class="r" style="top:232px;"><div class="sn" style="left:0;width:43px;top:0">212</div><div class="sn" style="left:0;width:143px;top:0">6,784</div><div class="bar" style="left:151px;top:1px;width:95px;height:19px"></div><div class="sn" style="left:0;width:243px;top:0">32</div></div><div class="r" style="top:253px;"><div class="sn" style="left:0;width:43px;top:0">212</div><div class="sn" style="left:0;width:143px;top:0">6,784</div><div class="bar" style="left:151px;top:1px;width:95px;height:19px"></div><div class="sn" style="left:0;width:243px;top:0">32</div></div><div class="r" style="top:274px;"><div class="sn" style="left:0;width:43px;top:0">212</div><div class="sn" style="left:0;width:143px;top:0">6,784</div><div class="bar" style="left:151px;top:1px;width:95px;height:19px"></div><div class="sn" style="left:0;width:243px;top:0">32</div></div><div class="r" style="top:295px;"><div class="sn" style="left:0;width:43px;top:0">212</div><div class="sn" style="left:0;width:143px;top:0">6,784</div><div class="bar" style="left:151px;top:1px;width:95px;height:19px"></div><div class="sn" style="left:0;width:243px;top:0">32</div></div><div class="r" style="top:316px;"><div class="sn" style="left:0;width:43px;top:0">212</div><div class="sn" style="left:0;width:143px;top:0">6,784</div><div class="bar" style="left:151px;top:1px;width:95px;height:19px"></div><div class="sn" style="left:0;width:243px;top:0">32</div></div><div class="r" style="top:337px;"><div class="sn" style="left:0;width:43px;top:0">212</div><div class="sn" style="left:0;width:143px;top:0">6,784</div><div class="bar" style="left:151px;top:1px;width:95px;height:19px"></div><div class="sn" style="left:0;width:243px;top:0">32</div></div><div class="r" style="top:358px;"><div class="sn" style="left:0;width:43px;top:0">212</div><div class="sn" style="left:0;width:143px;top:0">0</div><div class="sn" style="left:0;width:243px;top:0">0</div></div><div class="r" style="top:379px;"><div class="sn" style="left:0;width:43px;top:0">212</div><div class="sn" style="left:0;width:143px;top:0">6,784</div><div class="bar" style="left:151px;top:1px;width:95px;height:19px"></div><div class="sn" style="left:0;width:243px;top:0">32</div></div><div class="r" style="top:400px;"><div class="sn" style="left:0;width:43px;top:0">212</div><div class="sn" style="left:0;width:143px;top:0">6,784</div><div class="bar" style="left:151px;top:1px;width:95px;height:19px"></div><div class="sn" style="left:0;width:243px;top:0">32</div></div><div class="r" style="top:421px;"><div class="sn" style="left:0;width:43px;top:0">212</div><div class="sn" style="left:0;width:143px;top:0">6,784</div><div class="bar" style="left:151px;top:1px;width:95px;height:19px"></div><div class="sn" style="left:0;width:243px;top:0">32</div></div><div class="r" style="top:442px;"><div class="sn" style="left:0;width:43px;top:0">212</div><div class="sn" style="left:0;width:143px;top:0">64</div><div class="sn" style="left:0;width:243px;top:0">0</div></div><div class="r" style="top:463px;"><div class="sn" style="left:0;width:43px;top:0">210</div><div class="sn" style="left:0;width:143px;top:0">6,720</div><div class="bar" style="left:151px;top:1px;width:95px;height:19px"></div><div class="sn" style="left:0;width:243px;top:0">32</div></div><div class="r" style="top:484px;"><div class="sn" style="left:0;width:43px;top:0">210</div><div class="sn" style="left:0;width:143px;top:0">6,720</div><div class="bar" style="left:151px;top:1px;width:95px;height:19px"></div><div class="sn" style="left:0;width:243px;top:0">32</div></div><div class="r" style="top:505px;background:#2c3c49;"><div class="sn" style="left:0;width:43px;top:0">210</div><div class="sn" style="left:0;width:143px;top:0">6,720</div><div class="bar" style="left:151px;top:1px;width:95px;height:19px"></div><div class="sn" style="left:0;width:243px;top:0">32</div></div><div class="r" style="top:526px;background:#2c3c49;"><div class="sn" style="left:0;width:43px;top:0">210</div><div class="sn" style="left:0;width:143px;top:0">6,720</div><div class="bar" style="left:151px;top:1px;width:95px;height:19px"></div><div class="sn" style="left:0;width:243px;top:0">32</div></div><div class="r" style="top:547px;background:#2c3c49;"><div class="sn" style="left:0;width:43px;top:0">210</div><div class="sn" style="left:0;width:143px;top:0">6,720</div><div class="bar" style="left:151px;top:1px;width:95px;height:19px"></div><div class="sn" style="left:0;width:243px;top:0">32</div></div><div class="r" style="top:568px;background:#2c3c49;"><div class="sn" style="left:0;width:43px;top:0">210</div><div class="sn" style="left:0;width:143px;top:0">6,720</div><div class="bar" style="left:151px;top:1px;width:95px;height:19px"></div><div class="sn" style="left:0;width:243px;top:0">32</div></div><div class="r" style="top:589px;background:#2c3c49;"><div class="sn" style="left:0;width:43px;top:0">210</div><div class="sn" style="left:0;width:143px;top:0">6,720</div><div class="bar" style="left:151px;top:1px;width:95px;height:19px"></div><div class="sn" style="left:0;width:243px;top:0">32</div></div><div class="r" style="top:610px;background:#2c3c49;"><div class="sn" style="left:0;width:43px;top:0">210</div><div class="sn" style="left:0;width:143px;top:0">6,720</div><div class="bar" style="left:151px;top:1px;width:95px;height:19px"></div><div class="sn" style="left:0;width:243px;top:0">32</div></div><div class="r" style="top:631px;background:#2c3c49;"><div class="sn" style="left:0;width:43px;top:0">0</div><div class="sn" style="left:0;width:143px;top:0">0</div><div class="sn" style="left:0;width:243px;top:0">0</div></div><div class="r" style="top:652px;background:#2c3c49;"><div class="sn" style="left:0;width:43px;top:0">0</div><div class="sn" style="left:0;width:143px;top:0">0</div><div class="sn" style="left:0;width:243px;top:0">0</div></div><div class="r" style="top:673px;"><div class="sn" style="left:0;width:43px;top:0">0</div><div class="sn" style="left:0;width:143px;top:0">0</div><div class="sn" style="left:0;width:243px;top:0">0</div></div><div class="r" style="top:694px;"><div class="sn" style="left:0;width:43px;top:0">0</div><div class="sn" style="left:0;width:143px;top:0">0</div><div class="sn" style="left:0;width:243px;top:0">0</div></div><div class="r" style="top:715px;"><div class="sn" style="left:0;width:43px;top:0">0</div><div class="sn" style="left:0;width:143px;top:0">0</div><div class="sn" style="left:0;width:243px;top:0">0</div></div><div class="r" style="top:736px;"><div class="sn" style="left:0;width:43px;top:0">0</div><div class="sn" style="left:0;width:143px;top:0">0</div><div class="sn" style="left:0;width:243px;top:0">0</div></div><div class="r" style="top:757px;"><div class="sn" style="left:0;width:43px;top:0">0</div><div class="sn" style="left:0;width:143px;top:0">0</div><div class="sn" style="left:0;width:243px;top:0">0</div></div><div class="r" style="top:778px;"><div class="sn" style="left:0;width:43px;top:0">0</div><div class="sn" style="left:0;width:143px;top:0">0</div><div class="sn" style="left:0;width:243px;top:0">0</div></div><div class="r" style="top:799px;"><div class="sn" style="left:0;width:43px;top:0">0</div><div class="sn" style="left:0;width:143px;top:0">0</div><div class="sn" style="left:0;width:243px;top:0">0</div></div><div class="r" style="top:820px;"><div class="sn" style="left:0;width:43px;top:0">0</div><div class="sn" style="left:0;width:143px;top:0">0</div><div class="sn" style="left:0;width:243px;top:0">0</div></div><div class="r" style="top:841px;"><div class="sn" style="left:0;width:43px;top:0">0</div><div class="sn" style="left:0;width:143px;top:0">0</div><div class="sn" style="left:0;width:243px;top:0">0</div></div><div class="r" style="top:862px;"><div class="sn" style="left:0;width:43px;top:0">0</div><div class="sn" style="left:0;width:143px;top:0">0</div><div class="sn" style="left:0;width:243px;top:0">0</div></div><div class="r" style="top:883px;"><div class="sn" style="left:0;width:43px;top:0">0</div><div class="sn" style="left:0;width:143px;top:0">0</div><div class="sn" style="left:0;width:243px;top:0">0</div></div><div class="r" style="top:904px;"><div class="sn" style="left:0;width:43px;top:0">0</div><div class="sn" style="left:0;width:143px;top:0">0</div><div class="sn" style="left:0;width:243px;top:0">0</div></div><div class="r" style="top:925px;"><div class="sn" style="left:0;width:43px;top:0">0</div><div class="sn" style="left:0;width:143px;top:0">0</div><div class="sn" style="left:0;width:243px;top:0">0</div></div><div class="r" style="top:946px;background:#2c3c49;"><div class="sn" style="left:0;width:43px;top:0">0</div><div class="sn" style="left:0;width:143px;top:0">0</div><div class="sn" style="left:0;width:243px;top:0">0</div></div><div class="r" style="top:967px;"><div class="sn" style="left:0;width:43px;top:0">0</div><div class="sn" style="left:0;width:143px;top:0">0</div><div class="sn" style="left:0;width:243px;top:0">0</div></div><div class="r" style="top:988px;"><div class="sn" style="left:0;width:43px;top:0">0</div><div class="sn" style="left:0;width:143px;top:0">0</div><div class="sn" style="left:0;width:243px;top:0">0</div></div><div class="r" style="top:1009px;"><div class="sn" style="left:0;width:43px;top:0">0</div><div class="sn" style="left:0;width:143px;top:0">0</div><div class="sn" style="left:0;width:243px;top:0">0</div></div></div><div class="a" style="left:1901px;top:422px;width:7px;height:12px;background:#3a82c4"></div><div class="a" style="left:1901px;top:454px;width:7px;height:1px;background:#3a82c4"></div><div class="a" style="left:1901px;top:689px;width:7px;height:8px;background:#3a82c4"></div><div class="a" style="left:1901px;top:701px;width:7px;height:1px;background:#3a82c4"></div><div class="a" style="left:1901px;top:727px;width:7px;height:1px;background:#3a82c4"></div><div class="a" style="left:1901px;top:949px;width:7px;height:1px;background:#3a82c4"></div><div class="a" style="left:1901px;top:957px;width:7px;height:1px;background:#3a82c4"></div><div class="a" style="left:1901px;top:975px;width:7px;height:1px;background:#3a82c4"></div><div class="a" style="left:1908px;top:692px;width:7px;height:49px;background:#ff7a0a"></div><div class="a" style="left:1908px;top:751px;width:7px;height:41px;background:#ff7a0a"></div><div class="a" style="left:1908px;top:802px;width:7px;height:39px;background:#ff7a0a"></div><div class="a" style="left:1908px;top:853px;width:7px;height:30px;background:#ff7a0a"></div><div class="a" style="left:1908px;top:888px;width:7px;height:42px;background:#ff7a0a"></div><div class="a" style="left:1908px;top:941px;width:7px;height:49px;background:#ff7a0a"></div><div class="a" style="left:1908px;top:1000px;width:7px;height:40px;background:#ff7a0a"></div><div class="a" style="left:1908px;top:1051px;width:7px;height:40px;background:#ff7a0a"></div><div class="a" style="left:1908px;top:1101px;width:7px;height:30px;background:#ff7a0a"></div><div class="a" style="left:1908px;top:1137px;width:7px;height:42px;background:#ff7a0a"></div><div class="a" style="left:1908px;top:1189px;width:7px;height:17px;background:#ff7a0a"></div><div class="a" style="left:1908px;top:955px;width:7px;height:2px;background:#ffffff"></div><div class="a" style="left:1908px;top:1200px;width:7px;height:2px;background:#ffffff"></div></body></html>
